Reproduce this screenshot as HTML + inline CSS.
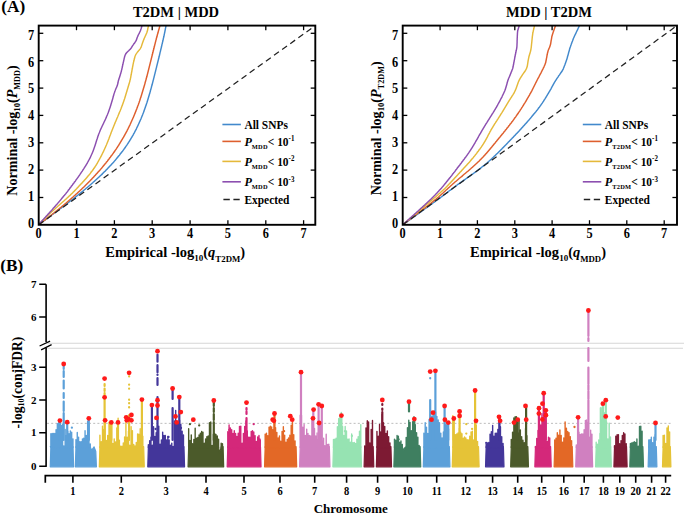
<!DOCTYPE html>
<html><head><meta charset="utf-8"><style>
html,body{margin:0;padding:0;background:#fff;width:685px;height:514px;overflow:hidden}
svg{display:block}
text{font-family:"Liberation Serif", serif;font-weight:bold;fill:#000}
.tk{font-size:14.5px}
.ttl{font-size:14.5px}
.ax{font-size:14.5px}
.ax2{font-size:14.3px}
.lg{font-size:12.3px}
.pl{font-size:17.3px}
.mt{font-size:11px}
.mx{font-size:12.3px}
.chr{font-size:13px}
</style></head><body>
<svg width="685" height="514" viewBox="0 0 685 514">
<rect width="685" height="514" fill="#fff"/>
<clipPath id="c38"><rect x="38.7" y="25.6" width="276.6" height="199.2"/></clipPath>
<g clip-path="url(#c38)" fill="none" stroke-width="1.45" stroke-linejoin="round">
<path d="M38.5,224.8 C38.9,224.5 40.3,223.5 41.2,222.8 C42.1,222.1 43,221.5 43.9,220.8 C44.8,220.1 45.7,219.5 46.6,218.8 C47.5,218.1 48.4,217.5 49.3,216.8 C50.2,216.1 51.1,215.5 52,214.8 C52.9,214.1 53.8,213.5 54.7,212.8 C55.6,212.1 56.5,211.5 57.4,210.8 C58.3,210.1 59.2,209.5 60.1,208.8 C61,208.1 61.9,207.5 62.8,206.8 C63.6,206.1 64.5,205.5 65.4,204.8 C66.3,204.1 67.2,203.5 68.1,202.8 C68.9,202.1 69.8,201.5 70.7,200.8 C71.5,200.1 72.4,199.5 73.3,198.8 C74.1,198.1 75,197.5 75.8,196.8 C76.7,196.1 77.5,195.5 78.3,194.8 C79.2,194.1 80,193.5 80.8,192.8 C81.7,192.1 82.5,191.5 83.3,190.8 C84.1,190.1 84.9,189.5 85.7,188.8 C86.5,188.1 87.3,187.5 88.1,186.8 C88.9,186.1 89.6,185.5 90.4,184.8 C91.2,184.1 91.9,183.5 92.7,182.8 C93.4,182.1 94.2,181.5 94.9,180.8 C95.7,180.1 96.4,179.5 97.1,178.8 C97.9,178.1 98.6,177.5 99.3,176.8 C100,176.1 100.7,175.5 101.4,174.8 C102.1,174.1 102.8,173.5 103.4,172.8 C104.1,172.1 104.8,171.5 105.5,170.8 C106.1,170.1 106.8,169.5 107.4,168.8 C108.1,168.1 108.7,167.5 109.3,166.8 C109.9,166.1 110.6,165.5 111.2,164.8 C111.8,164.1 112.4,163.5 113,162.8 C113.6,162.1 114.2,161.5 114.7,160.8 C115.3,160.1 115.9,159.5 116.4,158.8 C117,158.1 117.5,157.5 118.1,156.8 C118.6,156.1 119.2,155.5 119.7,154.8 C120.2,154.1 120.7,153.5 121.3,152.8 C121.8,152.1 122.3,151.5 122.8,150.8 C123.3,150.1 123.7,149.5 124.2,148.8 C124.7,148.1 125.2,147.5 125.6,146.8 C126.1,146.1 126.5,145.5 127,144.8 C127.4,144.1 127.9,143.5 128.3,142.8 C128.7,142.1 129.2,141.5 129.6,140.8 C130,140.1 130.4,139.5 130.8,138.8 C131.2,138.1 131.6,137.5 132,136.8 C132.4,136.1 132.8,135.5 133.2,134.8 C133.5,134.1 133.9,133.5 134.3,132.8 C134.6,132.1 135,131.5 135.3,130.8 C135.7,130.1 136,129.5 136.4,128.8 C136.7,128.1 137,127.5 137.3,126.8 C137.7,126.1 138,125.5 138.3,124.8 C138.6,124.1 138.9,123.5 139.2,122.8 C139.5,122.1 139.8,121.5 140.1,120.8 C140.4,120.1 140.7,119.5 141,118.8 C141.2,118.1 141.5,117.5 141.8,116.8 C142.1,116.1 142.3,115.5 142.6,114.8 C142.8,114.1 143.1,113.5 143.4,112.8 C143.6,112.1 143.9,111.5 144.1,110.8 C144.3,110.1 144.6,109.5 144.8,108.8 C145.1,108.1 145.3,107.5 145.5,106.8 C145.7,106.1 146,105.5 146.2,104.8 C146.4,104.1 146.6,103.5 146.9,102.8 C147.1,102.1 147.3,101.5 147.5,100.8 C147.7,100.1 147.9,99.5 148.1,98.8 C148.3,98.1 148.5,97.5 148.7,96.8 C148.9,96.1 149.1,95.5 149.3,94.8 C149.5,94.1 149.7,93.5 149.9,92.8 C150.1,92.1 150.3,91.5 150.4,90.8 C150.6,90.1 150.8,89.5 151,88.8 C151.2,88.1 151.4,87.5 151.5,86.8 C151.7,86.1 151.9,85.5 152.1,84.8 C152.2,84.1 152.4,83.5 152.6,82.8 C152.8,82.1 152.9,81.5 153.1,80.8 C153.3,80.1 153.5,79.5 153.6,78.8 C153.8,78.1 154,77.5 154.1,76.8 C154.3,76.1 154.5,75.5 154.6,74.8 C154.8,74.1 155,73.5 155.1,72.8 C155.3,72.1 155.5,71.5 155.6,70.8 C155.8,70.1 156,69.5 156.1,68.8 C156.3,68.1 156.5,67.5 156.6,66.8 C156.8,66.1 156.9,65.5 157.1,64.8 C157.3,64.1 157.4,63.5 157.6,62.8 C157.8,62.1 157.9,61.5 158.1,60.8 C158.3,60.1 158.4,59.5 158.6,58.8 C158.7,58.1 158.9,57.5 159.1,56.8 C159.2,56.1 159.4,55.5 159.6,54.8 C159.7,54.1 159.9,53.5 160,52.8 C160.2,52.1 160.4,51.5 160.5,50.8 C160.7,50.1 160.8,49.5 161,48.8 C161.2,48.1 161.3,47.5 161.5,46.8 C161.6,46.1 161.8,45.5 161.9,44.8 C162.1,44.1 162.3,43.5 162.4,42.8 C162.6,42.1 162.7,41.5 162.9,40.8 C163,40.1 163.2,39.5 163.3,38.8 C163.5,38.1 163.6,37.5 163.8,36.8 C163.9,36.1 164.1,35.5 164.2,34.8 C164.3,34.1 164.5,33.5 164.6,32.8 C164.8,32.1 164.9,31.5 165,30.8 C165.2,30.1 165.3,29.5 165.4,28.8 C165.5,28.1 165.7,27.5 165.8,26.8 C165.9,26.1 166,25.5 166.1,24.8 C166.2,24.1 166.4,23.5 166.5,22.8 C166.6,22.1 166.7,21.1 166.8,20.8" stroke="#4289cc"/>
<path d="M38.5,224.8 C38.9,224.5 40.3,223.5 41.2,222.8 C42.1,222.1 43,221.5 43.8,220.8 C44.7,220.1 45.6,219.5 46.5,218.8 C47.3,218.1 48.2,217.5 49.1,216.8 C49.9,216.1 50.8,215.5 51.6,214.8 C52.5,214.1 53.3,213.5 54.2,212.8 C55,212.1 55.8,211.5 56.7,210.8 C57.5,210.1 58.3,209.5 59.1,208.8 C60,208.1 60.8,207.5 61.6,206.8 C62.4,206.1 63.2,205.5 64,204.8 C64.8,204.1 65.6,203.5 66.4,202.8 C67.2,202.1 67.9,201.5 68.7,200.8 C69.5,200.1 70.2,199.5 71,198.8 C71.8,198.1 72.5,197.5 73.3,196.8 C74,196.1 74.8,195.5 75.5,194.8 C76.2,194.1 77,193.5 77.7,192.8 C78.4,192.1 79.1,191.5 79.9,190.8 C80.6,190.1 81.3,189.5 82,188.8 C82.7,188.1 83.4,187.5 84.1,186.8 C84.7,186.1 85.4,185.5 86.1,184.8 C86.8,184.1 87.4,183.5 88.1,182.8 C88.8,182.1 89.4,181.5 90.1,180.8 C90.7,180.1 91.4,179.5 92,178.8 C92.6,178.1 93.3,177.5 93.9,176.8 C94.5,176.1 95.1,175.5 95.7,174.8 C96.3,174.1 96.9,173.5 97.5,172.8 C98.1,172.1 98.7,171.5 99.3,170.8 C99.9,170.1 100.5,169.5 101,168.8 C101.6,168.1 102.2,167.5 102.7,166.8 C103.3,166.1 103.8,165.5 104.4,164.8 C104.9,164.1 105.5,163.5 106,162.8 C106.5,162.1 107.1,161.5 107.6,160.8 C108.1,160.1 108.6,159.5 109.1,158.8 C109.6,158.1 110.1,157.5 110.6,156.8 C111.1,156.1 111.6,155.5 112.1,154.8 C112.6,154.1 113,153.5 113.5,152.8 C114,152.1 114.5,151.5 114.9,150.8 C115.4,150.1 115.8,149.5 116.3,148.8 C116.7,148.1 117.2,147.5 117.6,146.8 C118,146.1 118.5,145.5 118.9,144.8 C119.3,144.1 119.7,143.5 120.1,142.8 C120.5,142.1 120.9,141.5 121.3,140.8 C121.7,140.1 122.1,139.5 122.5,138.8 C122.9,138.1 123.3,137.5 123.7,136.8 C124.1,136.1 124.4,135.5 124.8,134.8 C125.2,134.1 125.5,133.5 125.9,132.8 C126.3,132.1 126.6,131.5 127,130.8 C127.3,130.1 127.6,129.5 128,128.8 C128.3,128.1 128.7,127.5 129,126.8 C129.3,126.1 129.6,125.5 130,124.8 C130.3,124.1 130.6,123.5 130.9,122.8 C131.2,122.1 131.5,121.5 131.8,120.8 C132.1,120.1 132.4,119.5 132.7,118.8 C133,118.1 133.3,117.5 133.6,116.8 C133.9,116.1 134.1,115.5 134.4,114.8 C134.7,114.1 135,113.5 135.2,112.8 C135.5,112.1 135.8,111.5 136,110.8 C136.3,110.1 136.5,109.5 136.8,108.8 C137,108.1 137.3,107.5 137.5,106.8 C137.8,106.1 138,105.5 138.3,104.8 C138.5,104.1 138.7,103.5 139,102.8 C139.2,102.1 139.4,101.5 139.7,100.8 C139.9,100.1 140.1,99.5 140.3,98.8 C140.5,98.1 140.8,97.5 141,96.8 C141.2,96.1 141.4,95.5 141.6,94.8 C141.8,94.1 142,93.5 142.2,92.8 C142.4,92.1 142.6,91.5 142.8,90.8 C143,90.1 143.2,89.5 143.4,88.8 C143.6,88.1 143.8,87.5 144,86.8 C144.2,86.1 144.4,85.5 144.6,84.8 C144.8,84.1 145,83.5 145.1,82.8 C145.3,82.1 145.5,81.5 145.7,80.8 C145.9,80.1 146.1,79.5 146.2,78.8 C146.4,78.1 146.6,77.5 146.8,76.8 C146.9,76.1 147.1,75.5 147.3,74.8 C147.5,74.1 147.6,73.5 147.8,72.8 C148,72.1 148.1,71.5 148.3,70.8 C148.5,70.1 148.6,69.5 148.8,68.8 C149,68.1 149.1,67.5 149.3,66.8 C149.5,66.1 149.6,65.5 149.8,64.8 C150,64.1 150.1,63.5 150.3,62.8 C150.5,62.1 150.6,61.5 150.8,60.8 C151,60.1 151.1,59.5 151.3,58.8 C151.5,58.1 151.6,57.5 151.8,56.8 C152,56.1 152.1,55.5 152.3,54.8 C152.4,54.1 152.6,53.5 152.8,52.8 C152.9,52.1 153.1,51.5 153.3,50.8 C153.4,50.1 153.6,49.5 153.8,48.8 C153.9,48.1 154.1,47.5 154.3,46.8 C154.4,46.1 154.6,45.5 154.8,44.8 C155,44.1 155.1,43.5 155.3,42.8 C155.5,42.1 155.6,41.5 155.8,40.8 C156,40.1 156.2,39.5 156.3,38.8 C156.5,38.1 156.7,37.5 156.9,36.8 C157,36.1 157.2,35.5 157.4,34.8 C157.6,34.1 157.8,33.5 158,32.8 C158.1,32.1 158.3,31.5 158.5,30.8 C158.7,30.1 158.9,29.5 159.1,28.8 C159.3,28.1 159.4,27.5 159.6,26.8 C159.8,26.1 160,25.5 160.2,24.8 C160.4,24.1 160.6,23.5 160.8,22.8 C161,22.1 161.3,21.1 161.4,20.8" stroke="#de5f2e"/>
<path d="M38.5,224.8 C38.8,224.5 39.8,223.5 40.5,222.8 C41.2,222.1 41.8,221.5 42.5,220.8 C43.2,220.1 43.8,219.5 44.5,218.8 C45.2,218.1 45.8,217.5 46.5,216.8 C47.2,216.1 47.8,215.5 48.5,214.8 C49.2,214.1 49.9,213.5 50.6,212.8 C51.4,212.1 52.1,211.5 52.9,210.8 C53.6,210.1 54.3,209.5 55.1,208.8 C55.8,208.1 56.5,207.5 57.3,206.8 C58,206.1 58.8,205.5 59.5,204.8 C60.3,204.1 61,203.5 61.8,202.8 C62.6,202.1 63.3,201.5 64.1,200.8 C64.8,200.1 65.6,199.5 66.3,198.8 C67.1,198.1 67.8,197.5 68.5,196.8 C69.2,196.1 69.9,195.5 70.6,194.8 C71.3,194.1 72,193.5 72.7,192.8 C73.3,192.1 74,191.5 74.6,190.8 C75.3,190.1 75.9,189.5 76.6,188.8 C77.2,188.1 77.8,187.5 78.4,186.8 C79.1,186.1 79.7,185.5 80.3,184.8 C80.9,184.1 81.6,183.5 82.2,182.8 C82.8,182.1 83.4,181.5 84,180.8 C84.6,180.1 85.2,179.5 85.8,178.8 C86.3,178.1 86.9,177.5 87.5,176.8 C88,176.1 88.6,175.5 89.1,174.8 C89.7,174.1 90.2,173.5 90.7,172.8 C91.2,172.1 91.7,171.5 92.2,170.8 C92.7,170.1 93.2,169.5 93.6,168.8 C94.1,168.1 94.6,167.5 95,166.8 C95.4,166.1 95.9,165.5 96.3,164.8 C96.7,164.1 97.1,163.5 97.5,162.8 C97.9,162.1 98.3,161.5 98.6,160.8 C99,160.1 99.4,159.5 99.7,158.8 C100.1,158.1 100.5,157.5 100.8,156.8 C101.1,156.1 101.5,155.5 101.8,154.8 C102.2,154.1 102.5,153.5 102.8,152.8 C103.1,152.1 103.5,151.5 103.8,150.8 C104.1,150.1 104.4,149.5 104.7,148.8 C105,148.1 105.3,147.5 105.6,146.8 C105.9,146.1 106.2,145.5 106.5,144.8 C106.7,144.1 107,143.5 107.3,142.8 C107.6,142.1 107.8,141.5 108.1,140.8 C108.4,140.1 108.6,139.5 108.9,138.8 C109.1,138.1 109.4,137.5 109.6,136.8 C109.9,136.1 110.1,135.5 110.4,134.8 C110.6,134.1 110.9,133.5 111.1,132.8 C111.4,132.1 111.6,131.5 111.9,130.8 C112.2,130.1 112.4,129.5 112.7,128.8 C113,128.1 113.2,127.5 113.5,126.8 C113.8,126.1 114,125.5 114.3,124.8 C114.6,124.1 114.9,123.5 115.1,122.8 C115.4,122.1 115.7,121.5 116,120.8 C116.3,120.1 116.5,119.5 116.8,118.8 C117.1,118.1 117.4,117.5 117.7,116.8 C117.9,116.1 118.2,115.5 118.5,114.8 C118.8,114.1 119.1,113.5 119.3,112.8 C119.6,112.1 119.9,111.5 120.2,110.8 C120.4,110.1 120.7,109.5 121,108.8 C121.2,108.1 121.5,107.5 121.7,106.8 C122,106.1 122.3,105.5 122.5,104.8 C122.8,104.1 123,103.5 123.2,102.8 C123.5,102.1 123.7,101.5 123.9,100.8 C124.1,100.1 124.3,99.5 124.6,98.8 C124.8,98.1 125,97.5 125.2,96.8 C125.4,96.1 125.6,95.5 125.8,94.8 C126,94.1 126.2,93.5 126.4,92.8 C126.6,92.1 126.8,91.5 127,90.8 C127.2,90.1 127.4,89.5 127.6,88.8 C127.8,88.1 128,87.5 128.2,86.8 C128.4,86.1 128.6,85.5 128.8,84.8 C129,84.1 129.2,83.5 129.4,82.8 C129.6,82.1 129.8,81.5 129.9,80.8 C130.1,80.1 130.3,79.5 130.4,78.8 C130.5,78.1 130.7,77.5 130.8,76.8 C130.9,76.1 131,75.5 131.2,74.8 C131.3,74.1 131.4,73.5 131.5,72.8 C131.7,72.1 131.8,71.5 131.9,70.8 C132,70.1 132.1,69.5 132.3,68.8 C132.4,68.1 132.5,67.5 132.6,66.8 C132.8,66.1 132.9,65.5 133,64.8 C133.1,64.1 133.3,63.5 133.4,62.8 C133.6,62.1 133.7,61.5 133.9,60.8 C134,60.1 134.2,59.5 134.4,58.8 C134.5,58.1 134.7,57.5 134.9,56.8 C135.1,56.1 135.4,55.5 135.7,54.8 C136,54.1 136.4,53.5 136.9,52.8 C137.3,52.1 138,51.5 138.5,50.8 C139.1,50.1 139.7,49.5 140.2,48.8 C140.6,48.1 141,47.5 141.3,46.8 C141.6,46.1 141.7,45.5 141.9,44.8 C142.2,44.1 142.4,43.5 142.6,42.8 C142.8,42.1 143.1,41.5 143.3,40.8 C143.6,40.1 143.9,39.5 144.1,38.8 C144.4,38.1 144.7,37.5 145,36.8 C145.3,36.1 145.6,35.5 145.9,34.8 C146.2,34.1 146.5,33.5 146.8,32.8 C147,32.1 147.2,31.5 147.4,30.8 C147.6,30.1 147.7,29.5 147.8,28.8 C148,28.1 148.1,27.5 148.2,26.8 C148.3,26.1 148.5,25.5 148.6,24.8 C148.7,24.1 148.8,23.5 148.9,22.8 C149,22.1 149.1,21.1 149.2,20.8 C149.2,20.5 149.2,20.8 149.2,20.8" stroke="#e5b93a"/>
<path d="M38.5,224.8 C38.8,224.5 39.7,223.5 40.3,222.8 C40.9,222.1 41.5,221.5 42.1,220.8 C42.7,220.1 43.4,219.5 44,218.8 C44.6,218.1 45.2,217.5 45.8,216.8 C46.4,216.1 47,215.5 47.6,214.8 C48.2,214.1 48.8,213.5 49.4,212.8 C50,212.1 50.6,211.5 51.2,210.8 C51.8,210.1 52.4,209.5 52.9,208.8 C53.5,208.1 54.1,207.5 54.7,206.8 C55.2,206.1 55.8,205.5 56.4,204.8 C57,204.1 57.6,203.5 58.1,202.8 C58.7,202.1 59.3,201.5 59.8,200.8 C60.4,200.1 61,199.5 61.5,198.8 C62.1,198.1 62.6,197.5 63.2,196.8 C63.7,196.1 64.3,195.5 64.8,194.8 C65.4,194.1 65.9,193.5 66.4,192.8 C67,192.1 67.5,191.5 68,190.8 C68.5,190.1 69,189.5 69.5,188.8 C70,188.1 70.5,187.5 71,186.8 C71.5,186.1 72,185.5 72.5,184.8 C73,184.1 73.5,183.5 74,182.8 C74.5,182.1 75,181.5 75.5,180.8 C75.9,180.1 76.4,179.5 76.9,178.8 C77.4,178.1 77.8,177.5 78.3,176.8 C78.8,176.1 79.2,175.5 79.7,174.8 C80.1,174.1 80.6,173.5 81,172.8 C81.5,172.1 81.9,171.5 82.4,170.8 C82.8,170.1 83.2,169.5 83.7,168.8 C84.1,168.1 84.5,167.5 84.9,166.8 C85.4,166.1 85.8,165.5 86.2,164.8 C86.6,164.1 87,163.5 87.4,162.8 C87.8,162.1 88.2,161.5 88.5,160.8 C88.9,160.1 89.3,159.5 89.6,158.8 C89.9,158.1 90.3,157.5 90.6,156.8 C90.9,156.1 91.2,155.5 91.5,154.8 C91.8,154.1 92.1,153.5 92.4,152.8 C92.7,152.1 92.9,151.5 93.2,150.8 C93.5,150.1 93.7,149.5 93.9,148.8 C94.2,148.1 94.4,147.5 94.6,146.8 C94.9,146.1 95.1,145.5 95.3,144.8 C95.5,144.1 95.7,143.5 95.9,142.8 C96.1,142.1 96.3,141.5 96.5,140.8 C96.7,140.1 96.9,139.5 97.2,138.8 C97.4,138.1 97.6,137.5 97.8,136.8 C98,136.1 98.3,135.5 98.5,134.8 C98.7,134.1 99,133.5 99.3,132.8 C99.5,132.1 99.8,131.5 100.1,130.8 C100.4,130.1 100.6,129.5 100.9,128.8 C101.3,128.1 101.6,127.5 101.9,126.8 C102.2,126.1 102.5,125.5 102.8,124.8 C103.2,124.1 103.5,123.5 103.8,122.8 C104.1,122.1 104.4,121.5 104.7,120.8 C105.1,120.1 105.4,119.5 105.7,118.8 C106,118.1 106.3,117.5 106.5,116.8 C106.8,116.1 107.1,115.5 107.4,114.8 C107.6,114.1 107.9,113.5 108.2,112.8 C108.4,112.1 108.7,111.5 108.9,110.8 C109.2,110.1 109.4,109.5 109.6,108.8 C109.9,108.1 110.1,107.5 110.3,106.8 C110.5,106.1 110.7,105.5 110.9,104.8 C111.1,104.1 111.3,103.5 111.5,102.8 C111.7,102.1 111.9,101.5 112.1,100.8 C112.3,100.1 112.5,99.5 112.7,98.8 C112.9,98.1 113,97.5 113.2,96.8 C113.4,96.1 113.6,95.5 113.8,94.8 C114,94.1 114.1,93.5 114.4,92.8 C114.6,92.1 114.8,91.5 115.1,90.8 C115.3,90.1 115.6,89.5 115.9,88.8 C116.2,88.1 116.5,87.5 116.8,86.8 C117.1,86.1 117.3,85.5 117.5,84.8 C117.7,84.1 117.8,83.5 118,82.8 C118.1,82.1 118.2,81.5 118.4,80.8 C118.6,80.1 118.8,79.5 119,78.8 C119.2,78.1 119.5,77.5 119.7,76.8 C119.9,76.1 120.1,75.5 120.3,74.8 C120.5,74.1 120.7,73.5 120.9,72.8 C121.1,72.1 121.3,71.5 121.4,70.8 C121.6,70.1 121.8,69.5 121.9,68.8 C122.1,68.1 122.2,67.5 122.4,66.8 C122.5,66.1 122.6,65.5 122.8,64.8 C122.9,64.1 123.1,63.5 123.2,62.8 C123.4,62.1 123.5,61.5 123.7,60.8 C123.8,60.1 124,59.5 124.1,58.8 C124.3,58.1 124.4,57.5 124.6,56.8 C124.8,56.1 125,55.5 125.3,54.8 C125.6,54.1 126,53.5 126.6,52.8 C127.1,52.1 128,51.5 128.7,50.8 C129.3,50.1 130,49.5 130.6,48.8 C131.1,48.1 131.5,47.5 131.9,46.8 C132.3,46.1 132.7,45.5 133.2,44.8 C133.6,44.1 134.3,43.5 134.7,42.8 C135.2,42.1 135.7,41.5 136,40.8 C136.4,40.1 136.6,39.5 136.8,38.8 C137,38.1 137.2,37.5 137.5,36.8 C137.7,36.1 138.1,35.5 138.4,34.8 C138.8,34.1 139.2,33.5 139.5,32.8 C139.8,32.1 140.1,31.5 140.4,30.8 C140.6,30.1 140.8,29.5 141.1,28.8 C141.3,28.1 141.5,27.5 141.7,26.8 C141.8,26.1 142,25.5 142.1,24.8 C142.3,24.1 142.4,23.5 142.5,22.8 C142.6,22.1 142.7,21.1 142.7,20.8 C142.7,20.5 142.7,20.8 142.7,20.8" stroke="#8c4fb0"/>
<line x1="38.7" y1="224.8" x2="315.3" y2="25.6" stroke="#222" stroke-width="1.25" stroke-dasharray="6,4"/>
</g>
<rect x="38.7" y="25.6" width="276.6" height="199.2" fill="none" stroke="#000" stroke-width="1.9"/>
<text transform="translate(38.7,237.8) scale(0.85,1)" text-anchor="middle" class="tk">0</text>
<text transform="translate(34.2,228.1) scale(0.85,1)" text-anchor="end" class="tk">0</text>
<line x1="76.5" y1="224.8" x2="76.5" y2="220.2" stroke="#000" stroke-width="1.3"/>
<line x1="76.5" y1="25.6" x2="76.5" y2="30.2" stroke="#000" stroke-width="1.3"/>
<line x1="38.7" y1="197.5" x2="43.3" y2="197.5" stroke="#000" stroke-width="1.3"/>
<line x1="315.3" y1="197.5" x2="310.7" y2="197.5" stroke="#000" stroke-width="1.3"/>
<text transform="translate(76.5,237.8) scale(0.85,1)" text-anchor="middle" class="tk">1</text>
<text transform="translate(34.2,201.2) scale(0.85,1)" text-anchor="end" class="tk">1</text>
<line x1="114.4" y1="224.8" x2="114.4" y2="220.2" stroke="#000" stroke-width="1.3"/>
<line x1="114.4" y1="25.6" x2="114.4" y2="30.2" stroke="#000" stroke-width="1.3"/>
<line x1="38.7" y1="170.1" x2="43.3" y2="170.1" stroke="#000" stroke-width="1.3"/>
<line x1="315.3" y1="170.1" x2="310.7" y2="170.1" stroke="#000" stroke-width="1.3"/>
<text transform="translate(114.4,237.8) scale(0.85,1)" text-anchor="middle" class="tk">2</text>
<text transform="translate(34.2,174.2) scale(0.85,1)" text-anchor="end" class="tk">2</text>
<line x1="152.2" y1="224.8" x2="152.2" y2="220.2" stroke="#000" stroke-width="1.3"/>
<line x1="152.2" y1="25.6" x2="152.2" y2="30.2" stroke="#000" stroke-width="1.3"/>
<line x1="38.7" y1="142.8" x2="43.3" y2="142.8" stroke="#000" stroke-width="1.3"/>
<line x1="315.3" y1="142.8" x2="310.7" y2="142.8" stroke="#000" stroke-width="1.3"/>
<text transform="translate(152.2,237.8) scale(0.85,1)" text-anchor="middle" class="tk">3</text>
<text transform="translate(34.2,147.3) scale(0.85,1)" text-anchor="end" class="tk">3</text>
<line x1="190.1" y1="224.8" x2="190.1" y2="220.2" stroke="#000" stroke-width="1.3"/>
<line x1="190.1" y1="25.6" x2="190.1" y2="30.2" stroke="#000" stroke-width="1.3"/>
<line x1="38.7" y1="115.4" x2="43.3" y2="115.4" stroke="#000" stroke-width="1.3"/>
<line x1="315.3" y1="115.4" x2="310.7" y2="115.4" stroke="#000" stroke-width="1.3"/>
<text transform="translate(190.1,237.8) scale(0.85,1)" text-anchor="middle" class="tk">4</text>
<text transform="translate(34.2,120.3) scale(0.85,1)" text-anchor="end" class="tk">4</text>
<line x1="227.9" y1="224.8" x2="227.9" y2="220.2" stroke="#000" stroke-width="1.3"/>
<line x1="227.9" y1="25.6" x2="227.9" y2="30.2" stroke="#000" stroke-width="1.3"/>
<line x1="38.7" y1="88.1" x2="43.3" y2="88.1" stroke="#000" stroke-width="1.3"/>
<line x1="315.3" y1="88.1" x2="310.7" y2="88.1" stroke="#000" stroke-width="1.3"/>
<text transform="translate(227.9,237.8) scale(0.85,1)" text-anchor="middle" class="tk">5</text>
<text transform="translate(34.2,93.4) scale(0.85,1)" text-anchor="end" class="tk">5</text>
<line x1="265.8" y1="224.8" x2="265.8" y2="220.2" stroke="#000" stroke-width="1.3"/>
<line x1="265.8" y1="25.6" x2="265.8" y2="30.2" stroke="#000" stroke-width="1.3"/>
<line x1="38.7" y1="60.7" x2="43.3" y2="60.7" stroke="#000" stroke-width="1.3"/>
<line x1="315.3" y1="60.7" x2="310.7" y2="60.7" stroke="#000" stroke-width="1.3"/>
<text transform="translate(265.8,237.8) scale(0.85,1)" text-anchor="middle" class="tk">6</text>
<text transform="translate(34.2,66.5) scale(0.85,1)" text-anchor="end" class="tk">6</text>
<line x1="303.6" y1="224.8" x2="303.6" y2="220.2" stroke="#000" stroke-width="1.3"/>
<line x1="303.6" y1="25.6" x2="303.6" y2="30.2" stroke="#000" stroke-width="1.3"/>
<line x1="38.7" y1="33.3" x2="43.3" y2="33.3" stroke="#000" stroke-width="1.3"/>
<line x1="315.3" y1="33.3" x2="310.7" y2="33.3" stroke="#000" stroke-width="1.3"/>
<text transform="translate(303.6,237.8) scale(0.85,1)" text-anchor="middle" class="tk">7</text>
<text transform="translate(34.2,39.5) scale(0.85,1)" text-anchor="end" class="tk">7</text>
<text x="176" y="16.6" text-anchor="middle" class="ttl">T2DM | MDD</text>
<text x="175.2" y="257" text-anchor="middle" class="ax">Empirical -log<tspan font-size="9" dy="4">10</tspan><tspan dy="-4">(</tspan><tspan font-style="italic">q</tspan><tspan font-size="8.8" dy="4.5">T2DM</tspan><tspan dy="-4.5">)</tspan></text>
<text transform="translate(17.2,130.5) rotate(-90) scale(0.97,1)" text-anchor="middle" class="ax">Norminal -log<tspan font-size="9" dy="3">10</tspan><tspan dy="-3">(</tspan><tspan font-style="italic">P</tspan><tspan font-size="8.5" dy="3">MDD</tspan><tspan dy="-3">)</tspan></text>
<line x1="222.4" y1="124.5" x2="240.9" y2="124.5" stroke="#4289cc" stroke-width="1.6"/>
<line x1="222.4" y1="141.4" x2="240.9" y2="141.4" stroke="#de5f2e" stroke-width="1.6"/>
<line x1="222.4" y1="161.4" x2="240.9" y2="161.4" stroke="#e5b93a" stroke-width="1.6"/>
<line x1="222.4" y1="181.8" x2="240.9" y2="181.8" stroke="#8c4fb0" stroke-width="1.6"/>
<line x1="223.4" y1="199.5" x2="239.7" y2="199.5" stroke="#222" stroke-width="1.5" stroke-dasharray="6.4,3.6,6.4"/>
<text transform="translate(244.4,129.3) scale(0.93,1)" class="lg">All SNPs</text>
<text transform="translate(244.4,145.7) scale(0.93,1)" class="lg"><tspan font-style="italic" font-size="13">P</tspan><tspan font-size="6.9" letter-spacing="0.25" dy="3">MDD</tspan><tspan dy="-3">&lt; 10</tspan><tspan font-size="7.5" dy="-4.5">-1</tspan></text>
<text transform="translate(244.4,165.7) scale(0.93,1)" class="lg"><tspan font-style="italic" font-size="13">P</tspan><tspan font-size="6.9" letter-spacing="0.25" dy="3">MDD</tspan><tspan dy="-3">&lt; 10</tspan><tspan font-size="7.5" dy="-4.5">-2</tspan></text>
<text transform="translate(244.4,186.1) scale(0.93,1)" class="lg"><tspan font-style="italic" font-size="13">P</tspan><tspan font-size="6.9" letter-spacing="0.25" dy="3">MDD</tspan><tspan dy="-3">&lt; 10</tspan><tspan font-size="7.5" dy="-4.5">-3</tspan></text>
<text transform="translate(244.4,204.4) scale(0.93,1)" class="lg">Expected</text>
<clipPath id="c402"><rect x="402.7" y="25.6" width="274.3" height="199.2"/></clipPath>
<g clip-path="url(#c402)" fill="none" stroke-width="1.45" stroke-linejoin="round">
<path d="M402.7,224.8 C403.2,224.5 404.6,223.5 405.5,222.8 C406.4,222.1 407.3,221.5 408.3,220.8 C409.2,220.1 410.1,219.5 411.1,218.8 C412,218.1 412.9,217.5 413.9,216.8 C414.8,216.1 415.7,215.5 416.7,214.8 C417.6,214.1 418.5,213.5 419.5,212.8 C420.4,212.1 421.4,211.5 422.3,210.8 C423.2,210.1 424.1,209.5 425,208.8 C425.9,208.1 426.8,207.5 427.8,206.8 C428.7,206.1 429.6,205.5 430.5,204.8 C431.4,204.1 432.4,203.5 433.3,202.8 C434.2,202.1 435.1,201.5 436,200.8 C436.9,200.1 437.8,199.5 438.8,198.8 C439.7,198.1 440.6,197.5 441.5,196.8 C442.4,196.1 443.3,195.5 444.1,194.8 C445,194.1 445.9,193.5 446.8,192.8 C447.7,192.1 448.6,191.5 449.4,190.8 C450.3,190.1 451.2,189.5 452.1,188.8 C452.9,188.1 453.8,187.5 454.7,186.8 C455.6,186.1 456.5,185.5 457.4,184.8 C458.3,184.1 459.2,183.5 460.1,182.8 C461.1,182.1 462,181.5 462.9,180.8 C463.9,180.1 464.8,179.5 465.8,178.8 C466.7,178.1 467.7,177.5 468.7,176.8 C469.6,176.1 470.6,175.5 471.5,174.8 C472.5,174.1 473.4,173.5 474.3,172.8 C475.3,172.1 476.2,171.5 477.1,170.8 C478,170.1 478.9,169.5 479.7,168.8 C480.6,168.1 481.5,167.5 482.3,166.8 C483.1,166.1 484,165.5 484.8,164.8 C485.6,164.1 486.4,163.5 487.2,162.8 C487.9,162.1 488.7,161.5 489.5,160.8 C490.2,160.1 490.9,159.5 491.7,158.8 C492.4,158.1 493.1,157.5 493.8,156.8 C494.5,156.1 495.2,155.5 495.9,154.8 C496.6,154.1 497.3,153.5 498,152.8 C498.7,152.1 499.3,151.5 500,150.8 C500.7,150.1 501.3,149.5 502,148.8 C502.6,148.1 503.3,147.5 503.9,146.8 C504.6,146.1 505.2,145.5 505.9,144.8 C506.5,144.1 507.1,143.5 507.8,142.8 C508.4,142.1 509.1,141.5 509.7,140.8 C510.4,140.1 511,139.5 511.7,138.8 C512.3,138.1 513,137.5 513.6,136.8 C514.2,136.1 514.9,135.5 515.5,134.8 C516.1,134.1 516.8,133.5 517.4,132.8 C518,132.1 518.6,131.5 519.3,130.8 C519.9,130.1 520.5,129.5 521.1,128.8 C521.7,128.1 522.3,127.5 522.9,126.8 C523.5,126.1 524.1,125.5 524.7,124.8 C525.3,124.1 525.9,123.5 526.5,122.8 C527,122.1 527.6,121.5 528.2,120.8 C528.8,120.1 529.4,119.5 529.9,118.8 C530.5,118.1 531.1,117.5 531.6,116.8 C532.2,116.1 532.7,115.5 533.3,114.8 C533.8,114.1 534.4,113.5 534.9,112.8 C535.5,112.1 536,111.5 536.5,110.8 C537.1,110.1 537.6,109.5 538.1,108.8 C538.6,108.1 539.1,107.5 539.6,106.8 C540.1,106.1 540.5,105.5 541,104.8 C541.5,104.1 541.9,103.5 542.4,102.8 C542.8,102.1 543.3,101.5 543.7,100.8 C544.1,100.1 544.5,99.5 545,98.8 C545.4,98.1 545.8,97.5 546.2,96.8 C546.6,96.1 547,95.5 547.4,94.8 C547.8,94.1 548.2,93.5 548.6,92.8 C549,92.1 549.4,91.5 549.8,90.8 C550.2,90.1 550.6,89.5 551,88.8 C551.3,88.1 551.7,87.5 552,86.8 C552.4,86.1 552.7,85.5 553.1,84.8 C553.5,84.1 553.8,83.5 554.2,82.8 C554.6,82.1 555,81.5 555.4,80.8 C555.9,80.1 556.3,79.5 556.7,78.8 C557.2,78.1 557.6,77.5 558.1,76.8 C558.5,76.1 559,75.5 559.5,74.8 C559.9,74.1 560.4,73.5 560.8,72.8 C561.3,72.1 561.8,71.5 562.2,70.8 C562.6,70.1 562.9,69.5 563.3,68.8 C563.6,68.1 563.8,67.5 564.1,66.8 C564.4,66.1 564.6,65.5 564.9,64.8 C565.1,64.1 565.4,63.5 565.6,62.8 C565.9,62.1 566.1,61.5 566.3,60.8 C566.6,60.1 566.8,59.5 567,58.8 C567.2,58.1 567.3,57.5 567.5,56.8 C567.7,56.1 567.9,55.5 568.1,54.8 C568.3,54.1 568.4,53.5 568.6,52.8 C568.8,52.1 569,51.5 569.2,50.8 C569.4,50.1 569.5,49.5 569.7,48.8 C569.9,48.1 570.1,47.5 570.4,46.8 C570.6,46.1 570.8,45.5 571.1,44.8 C571.3,44.1 571.6,43.5 571.8,42.8 C572.1,42.1 572.3,41.5 572.6,40.8 C572.8,40.1 573.1,39.5 573.3,38.8 C573.6,38.1 573.9,37.5 574.2,36.8 C574.5,36.1 574.8,35.5 575.1,34.8 C575.4,34.1 575.8,33.5 576.1,32.8 C576.4,32.1 576.7,31.5 577,30.8 C577.3,30.1 577.7,29.5 578,28.8 C578.3,28.1 578.6,27.5 578.9,26.8 C579.2,26.1 579.5,25.5 579.7,24.8 C580,24.1 580.2,23.5 580.4,22.8 C580.6,22.1 580.8,21.1 580.9,20.8 C581,20.5 580.9,20.8 580.9,20.8" stroke="#4289cc"/>
<path d="M402.7,224.8 C403.1,224.5 404.4,223.5 405.3,222.8 C406.2,222.1 407.1,221.5 408,220.8 C408.8,220.1 409.7,219.5 410.6,218.8 C411.5,218.1 412.4,217.5 413.2,216.8 C414.1,216.1 415,215.5 415.9,214.8 C416.8,214.1 417.6,213.5 418.5,212.8 C419.4,212.1 420.3,211.5 421.2,210.8 C422,210.1 422.9,209.5 423.7,208.8 C424.6,208.1 425.5,207.5 426.3,206.8 C427.2,206.1 428,205.5 428.9,204.8 C429.7,204.1 430.6,203.5 431.4,202.8 C432.3,202.1 433.1,201.5 433.9,200.8 C434.8,200.1 435.6,199.5 436.4,198.8 C437.2,198.1 438,197.5 438.8,196.8 C439.5,196.1 440.3,195.5 441,194.8 C441.8,194.1 442.5,193.5 443.3,192.8 C444,192.1 444.7,191.5 445.4,190.8 C446.1,190.1 446.9,189.5 447.6,188.8 C448.3,188.1 449,187.5 449.8,186.8 C450.5,186.1 451.2,185.5 452,184.8 C452.7,184.1 453.5,183.5 454.2,182.8 C455,182.1 455.8,181.5 456.6,180.8 C457.3,180.1 458.1,179.5 458.9,178.8 C459.7,178.1 460.5,177.5 461.3,176.8 C462.1,176.1 462.9,175.5 463.6,174.8 C464.4,174.1 465.2,173.5 466,172.8 C466.8,172.1 467.6,171.5 468.4,170.8 C469.1,170.1 469.9,169.5 470.7,168.8 C471.4,168.1 472.2,167.5 472.9,166.8 C473.7,166.1 474.4,165.5 475.1,164.8 C475.9,164.1 476.6,163.5 477.3,162.8 C478,162.1 478.7,161.5 479.4,160.8 C480,160.1 480.7,159.5 481.3,158.8 C482,158.1 482.6,157.5 483.3,156.8 C483.9,156.1 484.5,155.5 485.1,154.8 C485.7,154.1 486.3,153.5 486.9,152.8 C487.5,152.1 488,151.5 488.6,150.8 C489.2,150.1 489.7,149.5 490.3,148.8 C490.8,148.1 491.4,147.5 491.9,146.8 C492.5,146.1 493,145.5 493.6,144.8 C494.1,144.1 494.7,143.5 495.2,142.8 C495.7,142.1 496.3,141.5 496.8,140.8 C497.4,140.1 497.9,139.5 498.5,138.8 C499,138.1 499.6,137.5 500.1,136.8 C500.7,136.1 501.2,135.5 501.8,134.8 C502.3,134.1 502.9,133.5 503.4,132.8 C503.9,132.1 504.5,131.5 505,130.8 C505.5,130.1 506.1,129.5 506.6,128.8 C507.1,128.1 507.7,127.5 508.2,126.8 C508.7,126.1 509.2,125.5 509.7,124.8 C510.2,124.1 510.8,123.5 511.3,122.8 C511.8,122.1 512.3,121.5 512.8,120.8 C513.3,120.1 513.7,119.5 514.2,118.8 C514.7,118.1 515.2,117.5 515.7,116.8 C516.1,116.1 516.6,115.5 517,114.8 C517.5,114.1 518,113.5 518.4,112.8 C518.9,112.1 519.3,111.5 519.8,110.8 C520.2,110.1 520.6,109.5 521.1,108.8 C521.5,108.1 521.9,107.5 522.4,106.8 C522.8,106.1 523.2,105.5 523.6,104.8 C524,104.1 524.4,103.5 524.9,102.8 C525.3,102.1 525.7,101.5 526.1,100.8 C526.5,100.1 526.8,99.5 527.2,98.8 C527.6,98.1 528,97.5 528.4,96.8 C528.8,96.1 529.2,95.5 529.6,94.8 C529.9,94.1 530.3,93.5 530.7,92.8 C531.1,92.1 531.4,91.5 531.8,90.8 C532.1,90.1 532.5,89.5 532.8,88.8 C533.2,88.1 533.5,87.5 533.8,86.8 C534.2,86.1 534.5,85.5 534.8,84.8 C535.2,84.1 535.5,83.5 535.8,82.8 C536.1,82.1 536.5,81.5 536.8,80.8 C537.2,80.1 537.5,79.5 537.8,78.8 C538.2,78.1 538.5,77.5 538.9,76.8 C539.2,76.1 539.6,75.5 539.9,74.8 C540.3,74.1 540.6,73.5 541,72.8 C541.3,72.1 541.7,71.5 542,70.8 C542.3,70.1 542.6,69.5 543,68.8 C543.3,68.1 543.6,67.5 544,66.8 C544.3,66.1 544.6,65.5 544.9,64.8 C545.2,64.1 545.4,63.5 545.6,62.8 C545.8,62.1 545.9,61.5 546,60.8 C546.2,60.1 546.3,59.5 546.4,58.8 C546.5,58.1 546.7,57.5 546.8,56.8 C546.9,56.1 547,55.5 547.2,54.8 C547.3,54.1 547.4,53.5 547.6,52.8 C547.7,52.1 547.9,51.5 548.1,50.8 C548.3,50.1 548.7,49.5 548.9,48.8 C549.2,48.1 549.6,47.5 549.8,46.8 C550,46.1 550.2,45.5 550.4,44.8 C550.6,44.1 550.7,43.5 550.8,42.8 C550.9,42.1 551,41.5 551.1,40.8 C551.2,40.1 551.4,39.5 551.5,38.8 C551.6,38.1 551.7,37.5 551.8,36.8 C552,36.1 552.2,35.5 552.4,34.8 C552.6,34.1 552.8,33.5 553,32.8 C553.3,32.1 553.5,31.5 553.7,30.8 C554,30.1 554.2,29.5 554.4,28.8 C554.7,28.1 554.9,27.5 555.1,26.8 C555.3,26.1 555.6,25.5 555.7,24.8 C555.9,24.1 556.1,23.5 556.2,22.8 C556.4,22.1 556.5,21.1 556.6,20.8 C556.6,20.5 556.6,20.8 556.6,20.8" stroke="#de5f2e"/>
<path d="M402.7,224.8 C403.1,224.5 404.3,223.5 405.1,222.8 C405.8,222.1 406.6,221.5 407.4,220.8 C408.2,220.1 409,219.5 409.8,218.8 C410.6,218.1 411.4,217.5 412.2,216.8 C413,216.1 413.8,215.5 414.6,214.8 C415.3,214.1 416.1,213.5 416.9,212.8 C417.7,212.1 418.5,211.5 419.3,210.8 C420.1,210.1 420.9,209.5 421.6,208.8 C422.4,208.1 423.2,207.5 424,206.8 C424.7,206.1 425.5,205.5 426.3,204.8 C427.1,204.1 427.9,203.5 428.7,202.8 C429.4,202.1 430.2,201.5 431,200.8 C431.8,200.1 432.6,199.5 433.3,198.8 C434.1,198.1 434.9,197.5 435.7,196.8 C436.4,196.1 437.2,195.5 438,194.8 C438.7,194.1 439.5,193.5 440.2,192.8 C441,192.1 441.7,191.5 442.4,190.8 C443.2,190.1 443.9,189.5 444.6,188.8 C445.2,188.1 445.9,187.5 446.6,186.8 C447.3,186.1 447.9,185.5 448.5,184.8 C449.2,184.1 449.8,183.5 450.4,182.8 C451.1,182.1 451.7,181.5 452.3,180.8 C452.9,180.1 453.5,179.5 454.1,178.8 C454.7,178.1 455.3,177.5 455.9,176.8 C456.5,176.1 457.1,175.5 457.8,174.8 C458.4,174.1 459,173.5 459.6,172.8 C460.2,172.1 460.9,171.5 461.5,170.8 C462.1,170.1 462.7,169.5 463.3,168.8 C464,168.1 464.6,167.5 465.2,166.8 C465.8,166.1 466.4,165.5 467,164.8 C467.6,164.1 468.2,163.5 468.8,162.8 C469.4,162.1 470,161.5 470.5,160.8 C471.1,160.1 471.6,159.5 472.2,158.8 C472.8,158.1 473.3,157.5 473.8,156.8 C474.4,156.1 474.9,155.5 475.4,154.8 C476,154.1 476.5,153.5 477,152.8 C477.5,152.1 478,151.5 478.5,150.8 C479,150.1 479.5,149.5 480,148.8 C480.5,148.1 480.9,147.5 481.4,146.8 C481.8,146.1 482.3,145.5 482.7,144.8 C483.2,144.1 483.6,143.5 484,142.8 C484.4,142.1 484.8,141.5 485.2,140.8 C485.6,140.1 485.9,139.5 486.3,138.8 C486.7,138.1 487,137.5 487.4,136.8 C487.7,136.1 488.1,135.5 488.4,134.8 C488.8,134.1 489.1,133.5 489.5,132.8 C489.8,132.1 490.2,131.5 490.6,130.8 C490.9,130.1 491.3,129.5 491.7,128.8 C492.1,128.1 492.5,127.5 492.9,126.8 C493.3,126.1 493.7,125.5 494.1,124.8 C494.5,124.1 494.9,123.5 495.4,122.8 C495.8,122.1 496.2,121.5 496.7,120.8 C497.1,120.1 497.5,119.5 498,118.8 C498.4,118.1 498.8,117.5 499.2,116.8 C499.7,116.1 500.1,115.5 500.5,114.8 C500.9,114.1 501.3,113.5 501.8,112.8 C502.2,112.1 502.6,111.5 503,110.8 C503.4,110.1 503.8,109.5 504.2,108.8 C504.6,108.1 505,107.5 505.4,106.8 C505.8,106.1 506.2,105.5 506.6,104.8 C507,104.1 507.4,103.5 507.8,102.8 C508.2,102.1 508.6,101.5 509,100.8 C509.4,100.1 509.9,99.5 510.3,98.8 C510.7,98.1 511.2,97.5 511.6,96.8 C512,96.1 512.4,95.5 512.9,94.8 C513.3,94.1 513.7,93.5 514.1,92.8 C514.5,92.1 514.8,91.5 515.1,90.8 C515.5,90.1 515.7,89.5 516,88.8 C516.3,88.1 516.5,87.5 516.7,86.8 C517,86.1 517.2,85.5 517.4,84.8 C517.7,84.1 517.9,83.5 518.1,82.8 C518.4,82.1 518.6,81.5 518.9,80.8 C519.2,80.1 519.5,79.5 519.9,78.8 C520.3,78.1 520.7,77.5 521.1,76.8 C521.6,76.1 522,75.5 522.4,74.8 C522.9,74.1 523.3,73.5 523.8,72.8 C524.3,72.1 524.8,71.5 525.2,70.8 C525.6,70.1 526.1,69.5 526.4,68.8 C526.7,68.1 526.9,67.5 527.1,66.8 C527.3,66.1 527.4,65.5 527.5,64.8 C527.6,64.1 527.7,63.5 527.8,62.8 C527.9,62.1 528,61.5 528.1,60.8 C528.2,60.1 528.4,59.5 528.5,58.8 C528.6,58.1 528.8,57.5 528.9,56.8 C529.1,56.1 529.3,55.5 529.5,54.8 C529.7,54.1 529.9,53.5 530.1,52.8 C530.3,52.1 530.5,51.5 530.6,50.8 C530.8,50.1 530.9,49.5 531,48.8 C531.2,48.1 531.2,47.5 531.3,46.8 C531.4,46.1 531.4,45.5 531.5,44.8 C531.6,44.1 531.6,43.5 531.7,42.8 C531.8,42.1 531.9,41.5 531.9,40.8 C532,40.1 532.1,39.5 532.1,38.8 C532.2,38.1 532.3,37.5 532.3,36.8 C532.4,36.1 532.5,35.5 532.6,34.8 C532.7,34.1 532.7,33.5 532.9,32.8 C533,32.1 533.2,31.5 533.3,30.8 C533.5,30.1 533.6,29.5 533.8,28.8 C533.9,28.1 534.1,27.5 534.2,26.8 C534.4,26.1 534.5,25.5 534.7,24.8 C534.8,24.1 534.9,23.5 535,22.8 C535.1,22.1 535.2,21.1 535.2,20.8 C535.2,20.5 535.2,20.8 535.2,20.8" stroke="#e5b93a"/>
<path d="M402.7,224.8 C403.1,224.5 404.2,223.5 404.9,222.8 C405.7,222.1 406.4,221.5 407.2,220.8 C407.9,220.1 408.6,219.5 409.4,218.8 C410.1,218.1 410.9,217.5 411.6,216.8 C412.4,216.1 413.1,215.5 413.9,214.8 C414.6,214.1 415.3,213.5 416.1,212.8 C416.8,212.1 417.6,211.5 418.3,210.8 C419.1,210.1 419.8,209.5 420.5,208.8 C421.2,208.1 422,207.5 422.7,206.8 C423.4,206.1 424.1,205.5 424.9,204.8 C425.6,204.1 426.3,203.5 427,202.8 C427.8,202.1 428.5,201.5 429.2,200.8 C429.9,200.1 430.6,199.5 431.3,198.8 C432,198.1 432.6,197.5 433.3,196.8 C434,196.1 434.6,195.5 435.3,194.8 C435.9,194.1 436.6,193.5 437.2,192.8 C437.8,192.1 438.4,191.5 439,190.8 C439.6,190.1 440.2,189.5 440.8,188.8 C441.4,188.1 442,187.5 442.5,186.8 C443.1,186.1 443.7,185.5 444.2,184.8 C444.8,184.1 445.3,183.5 445.9,182.8 C446.4,182.1 446.9,181.5 447.5,180.8 C448,180.1 448.5,179.5 449.1,178.8 C449.6,178.1 450.1,177.5 450.6,176.8 C451.2,176.1 451.7,175.5 452.2,174.8 C452.7,174.1 453.2,173.5 453.7,172.8 C454.3,172.1 454.8,171.5 455.3,170.8 C455.8,170.1 456.3,169.5 456.8,168.8 C457.3,168.1 457.8,167.5 458.4,166.8 C458.9,166.1 459.4,165.5 459.9,164.8 C460.4,164.1 460.9,163.5 461.4,162.8 C461.9,162.1 462.4,161.5 462.9,160.8 C463.4,160.1 463.9,159.5 464.4,158.8 C464.9,158.1 465.4,157.5 465.9,156.8 C466.4,156.1 466.8,155.5 467.3,154.8 C467.8,154.1 468.2,153.5 468.7,152.8 C469.1,152.1 469.6,151.5 470,150.8 C470.5,150.1 470.9,149.5 471.3,148.8 C471.8,148.1 472.2,147.5 472.6,146.8 C473,146.1 473.4,145.5 473.8,144.8 C474.2,144.1 474.6,143.5 475,142.8 C475.4,142.1 475.8,141.5 476.1,140.8 C476.5,140.1 476.9,139.5 477.3,138.8 C477.7,138.1 478,137.5 478.4,136.8 C478.8,136.1 479.2,135.5 479.5,134.8 C479.9,134.1 480.3,133.5 480.7,132.8 C481.1,132.1 481.4,131.5 481.8,130.8 C482.2,130.1 482.6,129.5 483,128.8 C483.4,128.1 483.8,127.5 484.2,126.8 C484.6,126.1 485,125.5 485.4,124.8 C485.8,124.1 486.2,123.5 486.7,122.8 C487.1,122.1 487.5,121.5 487.9,120.8 C488.3,120.1 488.8,119.5 489.2,118.8 C489.6,118.1 490,117.5 490.4,116.8 C490.9,116.1 491.3,115.5 491.7,114.8 C492.1,114.1 492.5,113.5 493,112.8 C493.4,112.1 493.8,111.5 494.2,110.8 C494.6,110.1 495,109.5 495.4,108.8 C495.8,108.1 496.2,107.5 496.6,106.8 C497,106.1 497.3,105.5 497.7,104.8 C498.1,104.1 498.5,103.5 498.8,102.8 C499.2,102.1 499.5,101.5 499.9,100.8 C500.3,100.1 500.6,99.5 500.9,98.8 C501.3,98.1 501.6,97.5 502,96.8 C502.3,96.1 502.6,95.5 502.9,94.8 C503.3,94.1 503.6,93.5 503.9,92.8 C504.2,92.1 504.5,91.5 504.8,90.8 C505,90.1 505.3,89.5 505.5,88.8 C505.7,88.1 505.9,87.5 506.1,86.8 C506.3,86.1 506.5,85.5 506.7,84.8 C506.9,84.1 507,83.5 507.2,82.8 C507.4,82.1 507.6,81.5 507.8,80.8 C508,80.1 508.3,79.5 508.5,78.8 C508.8,78.1 509.1,77.5 509.4,76.8 C509.7,76.1 510,75.5 510.2,74.8 C510.5,74.1 510.8,73.5 511,72.8 C511.3,72.1 511.6,71.5 511.8,70.8 C512.1,70.1 512.3,69.5 512.6,68.8 C512.8,68.1 512.9,67.5 513.1,66.8 C513.2,66.1 513.3,65.5 513.5,64.8 C513.6,64.1 513.7,63.5 513.8,62.8 C514,62.1 514.1,61.5 514.2,60.8 C514.3,60.1 514.5,59.5 514.6,58.8 C514.7,58.1 514.8,57.5 515,56.8 C515.1,56.1 515.2,55.5 515.4,54.8 C515.5,54.1 515.6,53.5 515.8,52.8 C515.9,52.1 516,51.5 516.2,50.8 C516.3,50.1 516.5,49.5 516.6,48.8 C516.7,48.1 516.8,47.5 516.9,46.8 C516.9,46.1 517,45.5 517,44.8 C517,44.1 517,43.5 517.1,42.8 C517.1,42.1 517.1,41.5 517.1,40.8 C517.2,40.1 517.2,39.5 517.2,38.8 C517.2,38.1 517.3,37.5 517.3,36.8 C517.3,36.1 517.3,35.5 517.4,34.8 C517.4,34.1 517.4,33.5 517.5,32.8 C517.5,32.1 517.6,31.5 517.7,30.8 C517.9,30.1 518.1,29.5 518.3,28.8 C518.5,28.1 518.7,27.5 518.9,26.8 C519.1,26.1 519.3,25.5 519.5,24.8 C519.6,24.1 519.8,23.5 519.9,22.8 C520,22.1 520.1,21.1 520.1,20.8 C520.2,20.5 520.1,20.8 520.1,20.8" stroke="#8c4fb0"/>
<line x1="402.7" y1="224.8" x2="677" y2="25.6" stroke="#222" stroke-width="1.25" stroke-dasharray="6,4"/>
</g>
<rect x="402.7" y="25.6" width="274.3" height="199.2" fill="none" stroke="#000" stroke-width="1.9"/>
<text transform="translate(402.7,237.8) scale(0.85,1)" text-anchor="middle" class="tk">0</text>
<text transform="translate(398.2,228.1) scale(0.85,1)" text-anchor="end" class="tk">0</text>
<line x1="440.1" y1="224.8" x2="440.1" y2="220.2" stroke="#000" stroke-width="1.3"/>
<line x1="440.1" y1="25.6" x2="440.1" y2="30.2" stroke="#000" stroke-width="1.3"/>
<line x1="402.7" y1="197.5" x2="407.3" y2="197.5" stroke="#000" stroke-width="1.3"/>
<line x1="677" y1="197.5" x2="672.4" y2="197.5" stroke="#000" stroke-width="1.3"/>
<text transform="translate(440.1,237.8) scale(0.85,1)" text-anchor="middle" class="tk">1</text>
<text transform="translate(398.2,201.2) scale(0.85,1)" text-anchor="end" class="tk">1</text>
<line x1="477.4" y1="224.8" x2="477.4" y2="220.2" stroke="#000" stroke-width="1.3"/>
<line x1="477.4" y1="25.6" x2="477.4" y2="30.2" stroke="#000" stroke-width="1.3"/>
<line x1="402.7" y1="170.1" x2="407.3" y2="170.1" stroke="#000" stroke-width="1.3"/>
<line x1="677" y1="170.1" x2="672.4" y2="170.1" stroke="#000" stroke-width="1.3"/>
<text transform="translate(477.4,237.8) scale(0.85,1)" text-anchor="middle" class="tk">2</text>
<text transform="translate(398.2,174.2) scale(0.85,1)" text-anchor="end" class="tk">2</text>
<line x1="514.8" y1="224.8" x2="514.8" y2="220.2" stroke="#000" stroke-width="1.3"/>
<line x1="514.8" y1="25.6" x2="514.8" y2="30.2" stroke="#000" stroke-width="1.3"/>
<line x1="402.7" y1="142.8" x2="407.3" y2="142.8" stroke="#000" stroke-width="1.3"/>
<line x1="677" y1="142.8" x2="672.4" y2="142.8" stroke="#000" stroke-width="1.3"/>
<text transform="translate(514.8,237.8) scale(0.85,1)" text-anchor="middle" class="tk">3</text>
<text transform="translate(398.2,147.3) scale(0.85,1)" text-anchor="end" class="tk">3</text>
<line x1="552.1" y1="224.8" x2="552.1" y2="220.2" stroke="#000" stroke-width="1.3"/>
<line x1="552.1" y1="25.6" x2="552.1" y2="30.2" stroke="#000" stroke-width="1.3"/>
<line x1="402.7" y1="115.4" x2="407.3" y2="115.4" stroke="#000" stroke-width="1.3"/>
<line x1="677" y1="115.4" x2="672.4" y2="115.4" stroke="#000" stroke-width="1.3"/>
<text transform="translate(552.1,237.8) scale(0.85,1)" text-anchor="middle" class="tk">4</text>
<text transform="translate(398.2,120.3) scale(0.85,1)" text-anchor="end" class="tk">4</text>
<line x1="589.5" y1="224.8" x2="589.5" y2="220.2" stroke="#000" stroke-width="1.3"/>
<line x1="589.5" y1="25.6" x2="589.5" y2="30.2" stroke="#000" stroke-width="1.3"/>
<line x1="402.7" y1="88.1" x2="407.3" y2="88.1" stroke="#000" stroke-width="1.3"/>
<line x1="677" y1="88.1" x2="672.4" y2="88.1" stroke="#000" stroke-width="1.3"/>
<text transform="translate(589.5,237.8) scale(0.85,1)" text-anchor="middle" class="tk">5</text>
<text transform="translate(398.2,93.4) scale(0.85,1)" text-anchor="end" class="tk">5</text>
<line x1="626.8" y1="224.8" x2="626.8" y2="220.2" stroke="#000" stroke-width="1.3"/>
<line x1="626.8" y1="25.6" x2="626.8" y2="30.2" stroke="#000" stroke-width="1.3"/>
<line x1="402.7" y1="60.7" x2="407.3" y2="60.7" stroke="#000" stroke-width="1.3"/>
<line x1="677" y1="60.7" x2="672.4" y2="60.7" stroke="#000" stroke-width="1.3"/>
<text transform="translate(626.8,237.8) scale(0.85,1)" text-anchor="middle" class="tk">6</text>
<text transform="translate(398.2,66.5) scale(0.85,1)" text-anchor="end" class="tk">6</text>
<line x1="664.2" y1="224.8" x2="664.2" y2="220.2" stroke="#000" stroke-width="1.3"/>
<line x1="664.2" y1="25.6" x2="664.2" y2="30.2" stroke="#000" stroke-width="1.3"/>
<line x1="402.7" y1="33.3" x2="407.3" y2="33.3" stroke="#000" stroke-width="1.3"/>
<line x1="677" y1="33.3" x2="672.4" y2="33.3" stroke="#000" stroke-width="1.3"/>
<text transform="translate(664.2,237.8) scale(0.85,1)" text-anchor="middle" class="tk">7</text>
<text transform="translate(398.2,39.5) scale(0.85,1)" text-anchor="end" class="tk">7</text>
<text x="549" y="16.6" text-anchor="middle" class="ttl">MDD | T2DM</text>
<text x="538.1" y="257" text-anchor="middle" class="ax">Empirical -log<tspan font-size="9" dy="4">10</tspan><tspan dy="-4">(</tspan><tspan font-style="italic">q</tspan><tspan font-size="8.8" dy="4.5">MDD</tspan><tspan dy="-4.5">)</tspan></text>
<text transform="translate(381.2,128.3) rotate(-90) scale(0.97,1)" text-anchor="middle" class="ax">Norminal -log<tspan font-size="9" dy="3">10</tspan><tspan dy="-3">(</tspan><tspan font-style="italic">P</tspan><tspan font-size="8.5" dy="3">T2DM</tspan><tspan dy="-3">)</tspan></text>
<line x1="582.8" y1="124.5" x2="601.3" y2="124.5" stroke="#4289cc" stroke-width="1.6"/>
<line x1="582.8" y1="141.4" x2="601.3" y2="141.4" stroke="#de5f2e" stroke-width="1.6"/>
<line x1="582.8" y1="161.4" x2="601.3" y2="161.4" stroke="#e5b93a" stroke-width="1.6"/>
<line x1="582.8" y1="181.8" x2="601.3" y2="181.8" stroke="#8c4fb0" stroke-width="1.6"/>
<line x1="583.8" y1="199.5" x2="600.1" y2="199.5" stroke="#222" stroke-width="1.5" stroke-dasharray="6.4,3.6,6.4"/>
<text transform="translate(604.8,129.3) scale(0.93,1)" class="lg">All SNPs</text>
<text transform="translate(604.8,145.7) scale(0.93,1)" class="lg"><tspan font-style="italic" font-size="13">P</tspan><tspan font-size="6.9" letter-spacing="0.25" dy="3">T2DM</tspan><tspan dy="-3">&lt; 10</tspan><tspan font-size="7.5" dy="-4.5">-1</tspan></text>
<text transform="translate(604.8,165.7) scale(0.93,1)" class="lg"><tspan font-style="italic" font-size="13">P</tspan><tspan font-size="6.9" letter-spacing="0.25" dy="3">T2DM</tspan><tspan dy="-3">&lt; 10</tspan><tspan font-size="7.5" dy="-4.5">-2</tspan></text>
<text transform="translate(604.8,186.1) scale(0.93,1)" class="lg"><tspan font-style="italic" font-size="13">P</tspan><tspan font-size="6.9" letter-spacing="0.25" dy="3">T2DM</tspan><tspan dy="-3">&lt; 10</tspan><tspan font-size="7.5" dy="-4.5">-3</tspan></text>
<text transform="translate(604.8,204.4) scale(0.93,1)" class="lg">Expected</text>
<text x="1.2" y="11.9" class="pl">(A)</text>
<text x="0.3" y="270.7" class="pl">(B)</text>
<line x1="47.5" y1="343.3" x2="684" y2="343.3" stroke="#d6d6d6" stroke-width="1.1"/>
<line x1="47.5" y1="348.3" x2="683" y2="348.3" stroke="#d6d6d6" stroke-width="1.1"/>
<line x1="47" y1="423.35" x2="671" y2="423.35" stroke="#b4b4b4" stroke-width="0.9" stroke-dasharray="2,2.2"/>
<path d="M50.26,466.8 L50.86,446.5 L50.26,446.5 L52.01,446.5 L53.76,446.5 L55.51,446.5 L56.68,446.5 L58.43,446.5 L59.6,446.5 L60.77,446.5 L61.93,446.5 L63.69,446.5 L65.44,446.5 L66.61,446.5 L67.77,446.5 L69.53,446.5 L70.69,446.5 L73.03,446.5 L73.01,446.5 L73.61,466.8Z" fill="#5ca0d9" stroke="#5ca0d9" stroke-width="1.2" stroke-linejoin="round"/>
<path d="M50.86,447.5V433.65M52.16,447.5V433.47M53.46,447.5V433.4M54.76,447.5V433.42M56.06,447.5V429.75M57.36,447.5V423.77M58.66,447.5V422.58M59.96,447.5V431.73M61.26,447.5V425.5M62.56,447.5V424.24M63.86,447.5V446.01M65.16,447.5V429.39M66.46,447.5V435.42M67.76,447.5V431.08M69.06,447.5V433.74M70.36,447.5V430.85M71.66,447.5V432.26M72.96,447.5V438.83" stroke="#5ca0d9" stroke-width="1.4" stroke-linecap="round" fill="none"/>
<path d="M75.36,466.8 L75.96,446.5 L75.95,446.5 L77.7,446.5 L78.87,446.5 L80.04,446.5 L82.37,446.5 L83.54,446.5 L85.88,446.5 L87.04,446.5 L88.8,446.5 L89.96,446.5 L91.72,450.22 L94.05,446.86 L95.8,451.56 L95.79,451.56 L96.39,466.8Z" fill="#5ca0d9" stroke="#5ca0d9" stroke-width="1.2" stroke-linejoin="round"/>
<path d="M75.96,447.5V439.62M77.26,447.5V432.43M78.56,447.5V437.11M79.86,447.5V441.76M81.16,447.5V441.79M82.46,447.5V438.83M83.76,447.5V438.2M85.06,447.5V430.7M86.36,447.5V435.4M87.66,447.5V421.11M88.96,447.5V424.12M90.26,447.5V444.04" stroke="#5ca0d9" stroke-width="1.4" stroke-linecap="round" fill="none"/>
<path d="M99.31,466.8 L99.91,446.5 L101.06,446.5 L103.39,446.5 L104.56,446.5 L105.73,446.5 L108.65,446.5 L110.4,446.5 L112.74,446.5 L115.07,446.5 L117.99,446.5 L119.74,446.5 L122.08,446.5 L123.48,446.5 L125,446.5 L127.34,446.5 L129.67,446.5 L132.01,446.5 L133.18,446.5 L134.34,446.5 L136.68,446.5 L139.01,446.5 L141.35,446.5 L142.52,446.5 L143.67,446.5 L144.27,466.8Z" fill="#e5c337" stroke="#e5c337" stroke-width="1.2" stroke-linejoin="round"/>
<path d="M99.91,447.5V435.31M101.21,447.5V441.64M102.51,447.5V426.29M103.81,447.5V429.45M105.11,447.5V422.87M106.41,447.5V440.44M107.71,447.5V435.47M109.01,447.5V422.29M110.31,447.5V423.28M111.61,447.5V424.75M112.91,447.5V443.44M114.21,447.5V438.84M115.51,447.5V442.07M116.81,447.5V427.89M118.11,447.5V418.29M119.41,447.5V440.28M120.71,447.5V446.19M122.01,447.5V446.21M123.31,447.5V442.92M124.61,447.5V436.91M125.91,447.5V420.34M127.21,447.5V437.27M128.51,447.5V431.12M129.81,447.5V445.31M131.11,447.5V426.59M132.41,447.5V430.63M133.71,447.5V444.4M135.01,447.5V445.88M136.31,447.5V442.37M137.61,447.5V433.84M138.91,447.5V434.31M140.21,447.5V428.68M141.51,447.5V434.94M142.81,447.5V436.13" stroke="#e5c337" stroke-width="1.4" stroke-linecap="round" fill="none"/>
<path d="M147.77,466.8 L148.37,446.5 L148.36,446.5 L150.11,446.5 L151.28,446.5 L152.45,446.5 L154.2,446.5 L155.95,446.5 L157.12,446.5 L158.87,446.5 L160.04,446.5 L161.79,446.5 L163.54,446.5 L165.29,446.5 L167.04,446.5 L168.8,446.5 L170.55,446.5 L171.72,446.5 L172.3,446.5 L174.05,446.5 L175.22,446.5 L176.97,446.5 L178.14,446.5 L179.31,446.5 L181.06,446.5 L182.81,446.5 L183.98,446.5 L183.96,446.5 L184.56,466.8Z" fill="#43369a" stroke="#43369a" stroke-width="1.2" stroke-linejoin="round"/>
<path d="M148.37,447.5V444.8M149.67,447.5V440.81M150.97,447.5V437.24M152.27,447.5V445.25M153.57,447.5V426.73M154.87,447.5V436.52M156.17,447.5V432.71M157.47,447.5V426.04M158.77,447.5V426.09M160.07,447.5V444.1M161.37,447.5V439.96M162.67,447.5V432.11M163.97,447.5V435.49M165.27,447.5V435.43M166.57,447.5V439.94M167.87,447.5V436.33M169.17,447.5V439.91M170.47,447.5V445.1M171.77,447.5V443.08M173.07,447.5V446.35M174.37,447.5V420.92M175.67,447.5V410.38M176.97,447.5V421.44M178.27,447.5V422.89M179.57,447.5V420.15M180.87,447.5V424.38M182.17,447.5V431.24M183.47,447.5V435.05" stroke="#43369a" stroke-width="1.4" stroke-linecap="round" fill="none"/>
<path d="M188.07,466.8 L188.67,446.5 L188.65,446.5 L190.4,446.5 L192.74,446.5 L195.07,446.5 L196.82,446.5 L198.58,446.5 L202.08,446.5 L203.83,446.5 L205,446.5 L206.75,446.5 L208.5,446.5 L209.67,446.5 L210.84,446.5 L212.01,446.5 L213.76,446.5 L214.93,446.5 L216.68,446.5 L218.43,446.5 L219.6,452.9 L221.35,446.5 L222.52,446.5 L223.09,446.5 L223.69,466.8Z" fill="#4b5a2a" stroke="#4b5a2a" stroke-width="1.2" stroke-linejoin="round"/>
<path d="M188.67,447.5V428.8M189.97,447.5V440.55M191.27,447.5V434.83M192.57,447.5V443.7M193.87,447.5V439.34M195.17,447.5V428.24M196.47,447.5V438.24M197.77,447.5V437.56M199.07,447.5V434.97M200.37,447.5V433.13M201.67,447.5V431.42M202.97,447.5V432.19M204.27,447.5V443.31M205.57,447.5V438.87M206.87,447.5V436.67M208.17,447.5V436.05M209.47,447.5V422.82M210.77,447.5V421.99M212.07,447.5V445.45M213.37,447.5V434.15M214.67,447.5V433.44M215.97,447.5V434.35M217.27,447.5V436.02M218.57,447.5V439.16M221.17,447.5V443.29M222.47,447.5V443.71" stroke="#4b5a2a" stroke-width="1.4" stroke-linecap="round" fill="none"/>
<path d="M227.19,466.8 L227.79,446.5 L227.77,446.5 L229.53,446.5 L231.28,446.5 L233.03,446.5 L235.36,446.5 L237.12,446.5 L238.87,446.5 L240.04,446.5 L241.79,446.5 L243.54,446.5 L245.88,446.5 L247.63,446.5 L249.38,446.5 L251.13,446.5 L252.88,446.5 L254.05,446.5 L256.39,446.5 L259.31,446.5 L260.47,446.5 L260.46,446.5 L261.06,466.8Z" fill="#d4287a" stroke="#d4287a" stroke-width="1.2" stroke-linejoin="round"/>
<path d="M227.79,447.5V431.67M229.09,447.5V425.03M230.39,447.5V428M231.69,447.5V429.74M232.99,447.5V433.54M234.29,447.5V430.77M235.59,447.5V433.4M236.89,447.5V436.41M238.19,447.5V433.28M239.49,447.5V426.33M240.79,447.5V426.3M242.09,447.5V443.25M243.39,447.5V433.42M244.69,447.5V426.57M245.99,447.5V421.04M247.29,447.5V431.04M248.59,447.5V437.11M249.89,447.5V437.15M251.19,447.5V431.43M252.49,447.5V430.62M253.79,447.5V431.89M255.09,447.5V435.82M256.39,447.5V441.4M257.69,447.5V437.07M258.99,447.5V435.39M260.29,447.5V440.31" stroke="#d4287a" stroke-width="1.4" stroke-linecap="round" fill="none"/>
<path d="M264.56,466.8 L265.16,446.5 L265.15,446.5 L266.9,446.5 L268.65,446.5 L270.4,446.5 L272.74,446.5 L274.49,446.5 L276.24,446.5 L277.99,446.5 L279.16,446.5 L280.91,446.5 L283.25,446.5 L285,446.5 L287.34,446.5 L289.67,446.5 L291.42,446.5 L293.18,446.5 L294.34,446.5 L296.09,446.5 L296.08,446.5 L296.68,466.8Z" fill="#e36826" stroke="#e36826" stroke-width="1.2" stroke-linejoin="round"/>
<path d="M265.16,447.5V434.12M266.46,447.5V433.1M267.76,447.5V435.61M269.06,447.5V427.08M270.36,447.5V426.08M271.66,447.5V427.07M272.96,447.5V429.69M274.26,447.5V420.37M275.56,447.5V427.62M276.86,447.5V432.34M278.16,447.5V437.83M279.46,447.5V435.85M280.76,447.5V441.18M282.06,447.5V431.5M283.36,447.5V426.74M284.66,447.5V435.13M285.96,447.5V442.2M287.26,447.5V439.48M288.56,447.5V438.07M289.86,447.5V435.18M291.16,447.5V425.14M292.46,447.5V422.02M293.76,447.5V434.82M295.06,447.5V440.99" stroke="#e36826" stroke-width="1.4" stroke-linecap="round" fill="none"/>
<path d="M299.6,466.8 L300.2,446.5 L300.18,446.5 L301.93,446.5 L303.69,446.5 L305.44,446.5 L307.19,446.5 L308.36,446.5 L310.11,446.5 L312.45,446.5 L313.61,446.5 L315.36,446.5 L317.12,446.5 L318.87,446.5 L320.62,446.5 L322.37,446.5 L324.71,446.5 L326.46,446.5 L328.21,446.5 L329.36,446.5 L329.96,466.8Z" fill="#d080c0" stroke="#d080c0" stroke-width="1.2" stroke-linejoin="round"/>
<path d="M300.2,447.5V415.3M301.5,447.5V415.35M302.8,447.5V427.3M304.1,447.5V424.54M305.4,447.5V435.51M306.7,447.5V429.19M308,447.5V433.38M309.3,447.5V435.47M310.6,447.5V435.85M311.9,447.5V419.02M313.2,447.5V417.56M314.5,447.5V428.38M315.8,447.5V435.93M317.1,447.5V432.96M318.4,447.5V439.51M319.7,447.5V424.63M321,447.5V425.46M322.3,447.5V440.67M323.6,447.5V438.23M324.9,447.5V445.71M326.2,447.5V434.29M327.5,447.5V444.42M328.8,447.5V444.29" stroke="#d080c0" stroke-width="1.4" stroke-linecap="round" fill="none"/>
<path d="M332.88,466.8 L333.48,446.5 L334.05,446.5 L336.39,446.5 L338.14,446.5 L339.89,446.5 L341.64,446.5 L343.39,446.5 L345.15,446.5 L346.9,446.5 L349.23,446.5 L351.57,446.5 L353.32,446.5 L355.66,446.5 L357.99,446.5 L359.74,446.5 L360.9,446.5 L361.5,466.8Z" fill="#96e3b2" stroke="#96e3b2" stroke-width="1.2" stroke-linejoin="round"/>
<path d="M333.48,447.5V439.48M334.78,447.5V439.15M336.08,447.5V438.22M337.38,447.5V426.69M338.68,447.5V418.66M339.98,447.5V416.42M341.28,447.5V412.53M342.58,447.5V426.43M343.88,447.5V435.35M345.18,447.5V426.4M346.48,447.5V430.88M347.78,447.5V439.21M349.08,447.5V439.04M350.38,447.5V442.13M351.68,447.5V434.06M352.98,447.5V442.63M354.28,447.5V442.55M355.58,447.5V443.56M356.88,447.5V439.26M358.18,447.5V436.67M359.48,447.5V431.25M360.78,447.5V424.7" stroke="#96e3b2" stroke-width="1.4" stroke-linecap="round" fill="none"/>
<path d="M364.09,466.8 L364.69,446.5 L364.67,446.5 L365.84,446.5 L367.01,446.5 L368.76,446.5 L370.51,446.5 L371.68,446.5 L372.85,446.5 L373.18,446.5 L373.78,466.8Z" fill="#7d1a33" stroke="#7d1a33" stroke-width="1.2" stroke-linejoin="round"/>
<path d="M364.69,447.5V445.91M365.99,447.5V427.92M367.29,447.5V420.82M368.59,447.5V422.05M369.89,447.5V442.93M371.19,447.5V429.41M372.49,447.5V420.38" stroke="#7d1a33" stroke-width="1.4" stroke-linecap="round" fill="none"/>
<path d="M376.35,466.8 L376.95,446.5 L376.93,446.5 L379.27,446.5 L381.02,446.5 L382.19,446.5 L383.94,446.5 L385.69,446.5 L387.45,446.5 L389.2,446.5 L390.95,446.5 L390.93,446.5 L391.53,466.8Z" fill="#7d1a33" stroke="#7d1a33" stroke-width="1.2" stroke-linejoin="round"/>
<path d="M376.95,447.5V431.37M378.25,447.5V436.2M379.55,447.5V424.35M380.85,447.5V431.85M382.15,447.5V414.53M383.45,447.5V422.66M384.75,447.5V426.34M386.05,447.5V433.5M387.35,447.5V431.05M388.65,447.5V436.74M389.95,447.5V442.87" stroke="#7d1a33" stroke-width="1.4" stroke-linecap="round" fill="none"/>
<path d="M393.87,466.8 L394.47,446.5 L394.45,446.5 L396.2,446.5 L397.96,446.5 L400.29,446.5 L402.04,446.5 L403.8,450.22 L404.96,447.53 L406.72,446.5 L408.47,446.5 L410.22,446.5 L411.97,446.5 L413.72,446.5 L415.47,446.5 L417.23,446.5 L418.98,446.5 L420.13,446.5 L420.73,466.8Z" fill="#3f7f60" stroke="#3f7f60" stroke-width="1.2" stroke-linejoin="round"/>
<path d="M394.47,447.5V439.21M395.77,447.5V440.26M397.07,447.5V435.46M398.37,447.5V436.17M399.67,447.5V442.08M400.97,447.5V441.03M402.27,447.5V444.37M406.17,447.5V437.38M407.47,447.5V427.78M408.77,447.5V420.15M410.07,447.5V422.37M411.37,447.5V430.82M412.67,447.5V421.76M413.97,447.5V416.81M415.27,447.5V424.78M416.57,447.5V432.75M417.87,447.5V437.28M419.17,447.5V445.49" stroke="#3f7f60" stroke-width="1.4" stroke-linecap="round" fill="none"/>
<path d="M423.3,466.8 L423.9,446.5 L424,446.5 L425.99,446.5 L427.74,446.5 L429.49,446.5 L431.24,446.5 L432.99,446.5 L434.74,446.5 L435.91,446.5 L437.66,446.5 L440,446.5 L441.75,446.5 L443.5,446.5 L444.67,446.5 L446.42,446.5 L448.18,446.5 L449.34,446.5 L449.33,446.5 L449.93,466.8Z" fill="#5ca0d9" stroke="#5ca0d9" stroke-width="1.2" stroke-linejoin="round"/>
<path d="M423.9,447.5V433.16M425.2,447.5V422.82M426.5,447.5V427.15M427.8,447.5V433.47M429.1,447.5V419.56M430.4,447.5V414.08M431.7,447.5V416.45M433,447.5V414.96M434.3,447.5V410.83M435.6,447.5V411.9M436.9,447.5V416.51M438.2,447.5V419.94M439.5,447.5V422.76M440.8,447.5V433.09M442.1,447.5V437.94M443.4,447.5V431.89M444.7,447.5V419.44M446,447.5V424.58M447.3,447.5V424.61M448.6,447.5V429.03" stroke="#5ca0d9" stroke-width="1.4" stroke-linecap="round" fill="none"/>
<path d="M452.26,466.8 L452.86,446.5 L452.85,446.5 L454.6,446.5 L456.35,446.5 L458.1,446.5 L459.85,446.5 L461.61,446.5 L463.36,446.5 L465.11,446.5 L466.86,446.5 L469.2,446.5 L471.53,446.5 L473.87,446.5 L475.62,446.5 L477.37,446.5 L478.52,446.5 L479.12,466.8Z" fill="#e5c337" stroke="#e5c337" stroke-width="1.2" stroke-linejoin="round"/>
<path d="M452.86,447.5V415.7M454.16,447.5V434.38M455.46,447.5V434.65M456.76,447.5V433.97M458.06,447.5V432.89M459.36,447.5V428.48M460.66,447.5V432.12M461.96,447.5V433.75M463.26,447.5V438.17M464.56,447.5V436.99M465.86,447.5V437.95M467.16,447.5V439.62M468.46,447.5V439.84M469.76,447.5V436.18M471.06,447.5V431.9M472.36,447.5V431.24M473.66,447.5V439.88M474.96,447.5V440.31M476.26,447.5V424.9M477.56,447.5V441.34" stroke="#e5c337" stroke-width="1.4" stroke-linecap="round" fill="none"/>
<path d="M485.55,466.8 L486.15,446.5 L486.13,446.5 L489.05,446.5 L491.39,446.5 L493.14,446.5 L494.89,446.5 L496.64,446.5 L498.39,446.5 L499.56,446.5 L500.73,446.5 L503.07,446.5 L503.4,446.5 L504,466.8Z" fill="#43369a" stroke="#43369a" stroke-width="1.2" stroke-linejoin="round"/>
<path d="M486.15,447.5V444.42M487.45,447.5V442.9M488.75,447.5V442.39M490.05,447.5V434.14M491.35,447.5V431.79M492.65,447.5V425.46M493.95,447.5V436.32M495.25,447.5V433.19M496.55,447.5V433.16M497.85,447.5V429.53M499.15,447.5V420.14M500.45,447.5V426.82M501.75,447.5V436.66M503.05,447.5V443.4" stroke="#43369a" stroke-width="1.4" stroke-linecap="round" fill="none"/>
<path d="M510.66,466.8 L511.26,446.5 L511.82,446.5 L512.99,446.5 L514.74,446.5 L517.08,446.5 L520,446.5 L517.34,446.5 L519.67,446.5 L521.42,446.5 L523.18,446.5 L524.34,446.5 L526.09,446.5 L527.85,446.5 L527.83,446.5 L528.43,466.8Z" fill="#4b5a2a" stroke="#4b5a2a" stroke-width="1.2" stroke-linejoin="round"/>
<path d="M511.26,447.5V439.47M512.56,447.5V432.31M513.86,447.5V418M515.16,447.5V416.64M516.46,447.5V416.64M517.76,447.5V432.88M519.06,447.5V419.37M520.36,447.5V429.84M521.66,447.5V436.59M522.96,447.5V440.32M524.26,447.5V442.59M525.56,447.5V428.42M526.86,447.5V435.62" stroke="#4b5a2a" stroke-width="1.4" stroke-linecap="round" fill="none"/>
<path d="M534.85,466.8 L535.45,446.5 L536.02,446.5 L537.77,446.5 L538.94,446.5 L540.11,446.5 L541.86,446.5 L544.2,446.5 L545.95,446.5 L547.7,446.5 L550.04,446.5 L550.6,446.5 L551.2,466.8Z" fill="#d4287a" stroke="#d4287a" stroke-width="1.2" stroke-linejoin="round"/>
<path d="M535.45,447.5V446.43M536.75,447.5V438.34M538.05,447.5V430.52M539.35,447.5V414.98M540.65,447.5V425.03M541.95,447.5V413.8M543.25,447.5V418.95M544.55,447.5V412.61M545.85,447.5V420.6M547.15,447.5V441.55M548.45,447.5V437.22M549.75,447.5V438" stroke="#d4287a" stroke-width="1.4" stroke-linecap="round" fill="none"/>
<path d="M554.12,466.8 L554.72,446.5 L555.29,446.5 L556.46,446.5 L558.21,446.5 L560.55,446.5 L561.72,446.5 L563.47,446.5 L565.22,446.5 L566.97,446.5 L568.72,446.5 L569.89,446.5 L572.23,446.5 L572.21,446.5 L572.81,466.8Z" fill="#e36826" stroke="#e36826" stroke-width="1.2" stroke-linejoin="round"/>
<path d="M554.72,447.5V439.87M556.02,447.5V438.09M557.32,447.5V432.71M558.62,447.5V435.13M559.92,447.5V429.91M561.22,447.5V435.46M562.52,447.5V442.12M563.82,447.5V437.86M565.12,447.5V422M566.42,447.5V428.24M567.72,447.5V431.49M569.02,447.5V432.63M570.32,447.5V436.69M571.62,447.5V440.62" stroke="#e36826" stroke-width="1.4" stroke-linecap="round" fill="none"/>
<path d="M575.73,466.8 L576.33,446.5 L576.31,446.5 L578.07,446.5 L579.82,446.5 L581.57,446.5 L583.91,446.5 L585.07,446.5 L587.99,446.5 L589.74,446.5 L591.5,446.5 L592.06,446.5 L592.66,466.8Z" fill="#d080c0" stroke="#d080c0" stroke-width="1.2" stroke-linejoin="round"/>
<path d="M576.33,447.5V444.9M577.63,447.5V424.28M578.93,447.5V432.28M580.23,447.5V434.5M581.53,447.5V433.86M582.83,447.5V434.05M584.13,447.5V429.64M585.43,447.5V420.33M586.73,447.5V420.05M588.03,447.5V422.44M589.33,447.5V437.28M590.63,447.5V430.12M591.93,447.5V434.1" stroke="#d080c0" stroke-width="1.4" stroke-linecap="round" fill="none"/>
<path d="M595.58,466.8 L596.18,446.5 L596.17,446.5 L599.67,446.5 L601.42,446.5 L603.18,446.5 L606.09,446.5 L607.85,446.5 L609.6,446.5 L610.77,446.5 L610.75,446.5 L611.35,466.8Z" fill="#96e3b2" stroke="#96e3b2" stroke-width="1.2" stroke-linejoin="round"/>
<path d="M596.18,447.5V442.14M597.48,447.5V444.32M598.78,447.5V440.06M600.08,447.5V433.38M601.38,447.5V419.61M602.68,447.5V412.62M603.98,447.5V412.66M605.28,447.5V412.62M606.58,447.5V421.93M607.88,447.5V439.04M609.18,447.5V423.08M610.48,447.5V437.06" stroke="#96e3b2" stroke-width="1.4" stroke-linecap="round" fill="none"/>
<path d="M613.92,466.8 L614.52,446.5 L614.85,446.5 L616.61,446.5 L618.36,446.5 L620.11,446.5 L623.03,446.5 L624.78,446.5 L625.95,446.5 L626.52,446.5 L627.12,466.8Z" fill="#7d1a33" stroke="#7d1a33" stroke-width="1.2" stroke-linejoin="round"/>
<path d="M614.52,447.5V445.58M615.82,447.5V436.26M617.12,447.5V434.7M618.42,447.5V434.58M619.72,447.5V443.72M621.02,447.5V440.59M622.32,447.5V435.38M623.62,447.5V432.76M624.92,447.5V434.03M626.22,447.5V443.58" stroke="#7d1a33" stroke-width="1.4" stroke-linecap="round" fill="none"/>
<path d="M629.8,466.8 L630.4,446.5 L630.62,446.5 L633.54,446.5 L635.88,446.5 L638.21,446.5 L639.96,446.5 L641.72,446.5 L642.88,446.5 L642.87,446.5 L643.47,466.8Z" fill="#3f7f60" stroke="#3f7f60" stroke-width="1.2" stroke-linejoin="round"/>
<path d="M630.4,447.5V443.53M631.7,447.5V443M633,447.5V442.43M634.3,447.5V441.74M635.6,447.5V442.51M636.9,447.5V439.04M638.2,447.5V446.08M639.5,447.5V426.42M640.8,447.5V426.28M642.1,447.5V431.3" stroke="#3f7f60" stroke-width="1.4" stroke-linecap="round" fill="none"/>
<path d="M648.14,466.8 L648.74,446.5 L649.31,446.5 L651.06,446.5 L652.81,446.5 L654.56,446.5 L655.73,446.5 L656.3,446.5 L656.9,466.8Z" fill="#5ca0d9" stroke="#5ca0d9" stroke-width="1.2" stroke-linejoin="round"/>
<path d="M648.74,447.5V439.92M650.04,447.5V439.58M651.34,447.5V437.26M652.64,447.5V442.81M653.94,447.5V437.11M655.24,447.5V434.72" stroke="#5ca0d9" stroke-width="1.4" stroke-linecap="round" fill="none"/>
<path d="M662.5,466.8 L663.1,446.5 L663.32,446.5 L665.07,446.5 L669.16,446.5 L670.33,446.5 L670.31,446.5 L670.91,466.8Z" fill="#e5c337" stroke="#e5c337" stroke-width="1.2" stroke-linejoin="round"/>
<path d="M663.1,447.5V435.56M664.4,447.5V435.18M665.7,447.5V443.33M667,447.5V427.96M668.3,447.5V425.84M669.6,447.5V431.84" stroke="#e5c337" stroke-width="1.4" stroke-linecap="round" fill="none"/>
<path d="M63.7,366V369M63.7,371V377M63.7,380.5V388.5M63.7,393V398M63.7,401.5V411M63.7,413V440" stroke="#5ca0d9" stroke-width="2.2" stroke-linecap="round" fill="none"/>
<path d="M59.9,421V440" stroke="#5ca0d9" stroke-width="2.2" stroke-linecap="round" fill="none"/>
<path d="M67.2,422V440" stroke="#5ca0d9" stroke-width="2.2" stroke-linecap="round" fill="none"/>
<path d="M88.8,418.3V440" stroke="#5ca0d9" stroke-width="2.2" stroke-linecap="round" fill="none"/>
<path d="M104.6,384V386M104.6,388.5V391M104.6,393V395M104.6,397V440" stroke="#e5c337" stroke-width="2.2" stroke-linecap="round" fill="none"/>
<path d="M111.3,422.4V440" stroke="#e5c337" stroke-width="2.2" stroke-linecap="round" fill="none"/>
<path d="M118,422.4V440" stroke="#e5c337" stroke-width="2.2" stroke-linecap="round" fill="none"/>
<path d="M129.1,376.3V376.5M129.1,384.5V384.7M129.1,388.5V388.7M129.1,399.6V399.8M129.1,403.1V403.3M129.1,407.2V407.4M129.1,415V440" stroke="#e5c337" stroke-width="2.2" stroke-linecap="round" fill="none"/>
<path d="M141.9,399.6V440" stroke="#e5c337" stroke-width="2.2" stroke-linecap="round" fill="none"/>
<path d="M151.9,405.1V440" stroke="#43369a" stroke-width="2.2" stroke-linecap="round" fill="none"/>
<path d="M157.5,354.7V361.7M157.5,365.2V372.2M157.5,374.5V375M157.5,378V385M157.5,397V440" stroke="#43369a" stroke-width="2.2" stroke-linecap="round" fill="none"/>
<path d="M172.6,388.5V399M172.6,408V440" stroke="#43369a" stroke-width="2.2" stroke-linecap="round" fill="none"/>
<path d="M179.3,397.1V440" stroke="#43369a" stroke-width="2.2" stroke-linecap="round" fill="none"/>
<path d="M213.8,400.5V406M213.8,408V412M213.8,414V420M213.8,422V440" stroke="#4b5a2a" stroke-width="2.2" stroke-linecap="round" fill="none"/>
<path d="M246.5,402.6V404M246.5,408V410M246.5,411.5V414M246.5,418V440" stroke="#d4287a" stroke-width="2.2" stroke-linecap="round" fill="none"/>
<path d="M274.5,413.5V440" stroke="#e36826" stroke-width="2.2" stroke-linecap="round" fill="none"/>
<path d="M301,372.2V440" stroke="#d080c0" stroke-width="2.2" stroke-linecap="round" fill="none"/>
<path d="M313.3,409.6V440" stroke="#d080c0" stroke-width="2.2" stroke-linecap="round" fill="none"/>
<path d="M318.6,404.3V440" stroke="#d080c0" stroke-width="2.2" stroke-linecap="round" fill="none"/>
<path d="M321.8,406V440" stroke="#d080c0" stroke-width="2.2" stroke-linecap="round" fill="none"/>
<path d="M341.4,415.6V440" stroke="#96e3b2" stroke-width="2.2" stroke-linecap="round" fill="none"/>
<path d="M382.3,400V401M382.3,404V405M382.3,408.5V410M382.3,412V440" stroke="#7d1a33" stroke-width="2.2" stroke-linecap="round" fill="none"/>
<path d="M409,401.7V411.5" stroke="#3f7f60" stroke-width="2.2" stroke-linecap="round" fill="none"/>
<path d="M414.3,419.1V440" stroke="#3f7f60" stroke-width="2.2" stroke-linecap="round" fill="none"/>
<path d="M430.2,378V378.3M430.2,400V440" stroke="#5ca0d9" stroke-width="2.2" stroke-linecap="round" fill="none"/>
<path d="M435.4,370.8V440" stroke="#5ca0d9" stroke-width="2.2" stroke-linecap="round" fill="none"/>
<path d="M444.6,406V440" stroke="#5ca0d9" stroke-width="2.2" stroke-linecap="round" fill="none"/>
<path d="M448.2,422.6V440" stroke="#5ca0d9" stroke-width="2.2" stroke-linecap="round" fill="none"/>
<path d="M453.8,418.5V440" stroke="#e5c337" stroke-width="2.2" stroke-linecap="round" fill="none"/>
<path d="M459.6,411.5V440" stroke="#e5c337" stroke-width="2.2" stroke-linecap="round" fill="none"/>
<path d="M475.1,390.5V440" stroke="#e5c337" stroke-width="2.2" stroke-linecap="round" fill="none"/>
<path d="M499.5,416.8V440" stroke="#43369a" stroke-width="2.2" stroke-linecap="round" fill="none"/>
<path d="M517.5,419.7V440" stroke="#4b5a2a" stroke-width="2.2" stroke-linecap="round" fill="none"/>
<path d="M526.1,406V440" stroke="#4b5a2a" stroke-width="2.2" stroke-linecap="round" fill="none"/>
<path d="M543.7,393.2V440" stroke="#d4287a" stroke-width="2.2" stroke-linecap="round" fill="none"/>
<path d="M538.9,408.6V440" stroke="#d4287a" stroke-width="2.2" stroke-linecap="round" fill="none"/>
<path d="M545.8,410.3V440" stroke="#d4287a" stroke-width="2.2" stroke-linecap="round" fill="none"/>
<path d="M578.1,417.3V440" stroke="#d080c0" stroke-width="2.2" stroke-linecap="round" fill="none"/>
<path d="M588.4,311.5V336M588.4,338V341M588.4,348V361M588.4,367.5V384M588.4,385V389.7M588.4,391V399M588.4,400.2V440" stroke="#d080c0" stroke-width="2.2" stroke-linecap="round" fill="none"/>
<path d="M602.9,403.7V440" stroke="#96e3b2" stroke-width="2.2" stroke-linecap="round" fill="none"/>
<path d="M600.8,408V440" stroke="#96e3b2" stroke-width="2.2" stroke-linecap="round" fill="none"/>
<path d="M605.8,400.2V440" stroke="#96e3b2" stroke-width="2.2" stroke-linecap="round" fill="none"/>
<path d="M655.5,423V440" stroke="#5ca0d9" stroke-width="2.2" stroke-linecap="round" fill="none"/>
<circle cx="71.9" cy="427.7" r="1.15" fill="#5ca0d9"/>
<circle cx="155.6" cy="429" r="1.15" fill="#43369a"/>
<circle cx="181" cy="428" r="1.15" fill="#43369a"/>
<circle cx="168.5" cy="437" r="1.15" fill="#43369a"/>
<circle cx="189.9" cy="424.2" r="1.15" fill="#4b5a2a"/>
<circle cx="199.2" cy="425.4" r="1.15" fill="#4b5a2a"/>
<circle cx="229.2" cy="430" r="1.15" fill="#d4287a"/>
<circle cx="253.7" cy="424.2" r="1.15" fill="#d4287a"/>
<circle cx="259.6" cy="439.4" r="1.15" fill="#d4287a"/>
<circle cx="284.1" cy="431.2" r="1.15" fill="#e36826"/>
<circle cx="344.9" cy="431.2" r="1.15" fill="#96e3b2"/>
<circle cx="351.9" cy="435.9" r="1.15" fill="#96e3b2"/>
<circle cx="398.6" cy="439.4" r="1.15" fill="#3f7f60"/>
<circle cx="466.3" cy="424.2" r="1.15" fill="#e5c337"/>
<circle cx="472.1" cy="428.9" r="1.15" fill="#e5c337"/>
<circle cx="466.3" cy="433.6" r="1.15" fill="#e5c337"/>
<circle cx="486.2" cy="442.9" r="1.15" fill="#43369a"/>
<circle cx="574.5" cy="427" r="1.15" fill="#e36826"/>
<circle cx="63.7" cy="364" r="2.4" fill="#ff1a1a"/>
<circle cx="59.9" cy="420.6" r="2.4" fill="#ff1a1a"/>
<circle cx="67.2" cy="422.2" r="2.4" fill="#ff1a1a"/>
<circle cx="88.8" cy="418.3" r="2.4" fill="#ff1a1a"/>
<circle cx="104.6" cy="378.6" r="2.4" fill="#ff1a1a"/>
<circle cx="104.6" cy="397.3" r="2.4" fill="#ff1a1a"/>
<circle cx="105.1" cy="420.3" r="2.4" fill="#ff1a1a"/>
<circle cx="111.3" cy="422.4" r="2.4" fill="#ff1a1a"/>
<circle cx="118" cy="422.4" r="2.4" fill="#ff1a1a"/>
<circle cx="129.1" cy="372.8" r="2.4" fill="#ff1a1a"/>
<circle cx="126.2" cy="417.3" r="2.4" fill="#ff1a1a"/>
<circle cx="128.5" cy="419.1" r="2.4" fill="#ff1a1a"/>
<circle cx="131.4" cy="415" r="2.4" fill="#ff1a1a"/>
<circle cx="131.4" cy="420.3" r="2.4" fill="#ff1a1a"/>
<circle cx="126.8" cy="420.3" r="2.4" fill="#ff1a1a"/>
<circle cx="141.9" cy="399.6" r="2.4" fill="#ff1a1a"/>
<circle cx="151.9" cy="405.1" r="2.4" fill="#ff1a1a"/>
<circle cx="157.5" cy="351.2" r="2.4" fill="#ff1a1a"/>
<circle cx="157.5" cy="400.2" r="2.4" fill="#ff1a1a"/>
<circle cx="157.5" cy="405.5" r="2.4" fill="#ff1a1a"/>
<circle cx="156.5" cy="417.9" r="2.4" fill="#ff1a1a"/>
<circle cx="172.6" cy="388.5" r="2.4" fill="#ff1a1a"/>
<circle cx="179.3" cy="397.1" r="2.4" fill="#ff1a1a"/>
<circle cx="175.5" cy="416.4" r="2.4" fill="#ff1a1a"/>
<circle cx="180.8" cy="412.1" r="2.4" fill="#ff1a1a"/>
<circle cx="176.7" cy="422.4" r="2.4" fill="#ff1a1a"/>
<circle cx="213.8" cy="400.5" r="2.4" fill="#ff1a1a"/>
<circle cx="193.3" cy="419.7" r="2.4" fill="#ff1a1a"/>
<circle cx="246.5" cy="402.6" r="2.4" fill="#ff1a1a"/>
<circle cx="274.5" cy="413.5" r="2.4" fill="#ff1a1a"/>
<circle cx="272.7" cy="419.7" r="2.4" fill="#ff1a1a"/>
<circle cx="273.9" cy="420.8" r="2.4" fill="#ff1a1a"/>
<circle cx="290.3" cy="416.2" r="2.4" fill="#ff1a1a"/>
<circle cx="292.2" cy="419.7" r="2.4" fill="#ff1a1a"/>
<circle cx="301" cy="372.2" r="2.4" fill="#ff1a1a"/>
<circle cx="318.6" cy="404.3" r="2.4" fill="#ff1a1a"/>
<circle cx="321.8" cy="406" r="2.4" fill="#ff1a1a"/>
<circle cx="313.6" cy="409.6" r="2.4" fill="#ff1a1a"/>
<circle cx="313" cy="418.3" r="2.4" fill="#ff1a1a"/>
<circle cx="319.1" cy="423" r="2.4" fill="#ff1a1a"/>
<circle cx="341.4" cy="415.6" r="2.4" fill="#ff1a1a"/>
<circle cx="382.3" cy="400" r="2.4" fill="#ff1a1a"/>
<circle cx="409" cy="401.7" r="2.4" fill="#ff1a1a"/>
<circle cx="414.3" cy="419.1" r="2.4" fill="#ff1a1a"/>
<circle cx="430.2" cy="371.6" r="2.4" fill="#ff1a1a"/>
<circle cx="435.4" cy="370.8" r="2.4" fill="#ff1a1a"/>
<circle cx="433" cy="412.7" r="2.4" fill="#ff1a1a"/>
<circle cx="444.6" cy="406" r="2.4" fill="#ff1a1a"/>
<circle cx="431.5" cy="419.7" r="2.4" fill="#ff1a1a"/>
<circle cx="444.9" cy="419.7" r="2.4" fill="#ff1a1a"/>
<circle cx="448.2" cy="422.6" r="2.4" fill="#ff1a1a"/>
<circle cx="475.1" cy="390.5" r="2.4" fill="#ff1a1a"/>
<circle cx="453.8" cy="418.5" r="2.4" fill="#ff1a1a"/>
<circle cx="459.6" cy="411.5" r="2.4" fill="#ff1a1a"/>
<circle cx="459.6" cy="415.9" r="2.4" fill="#ff1a1a"/>
<circle cx="476" cy="420.8" r="2.4" fill="#ff1a1a"/>
<circle cx="499" cy="416.8" r="2.4" fill="#ff1a1a"/>
<circle cx="500.1" cy="420.8" r="2.4" fill="#ff1a1a"/>
<circle cx="514" cy="422.6" r="2.4" fill="#ff1a1a"/>
<circle cx="517.7" cy="419.7" r="2.4" fill="#ff1a1a"/>
<circle cx="526.2" cy="419.7" r="2.4" fill="#ff1a1a"/>
<circle cx="525.5" cy="406" r="2.4" fill="#ff1a1a"/>
<circle cx="543.7" cy="393.2" r="2.4" fill="#ff1a1a"/>
<circle cx="542.5" cy="403.7" r="2.4" fill="#ff1a1a"/>
<circle cx="539" cy="408.2" r="2.4" fill="#ff1a1a"/>
<circle cx="545.8" cy="410.3" r="2.4" fill="#ff1a1a"/>
<circle cx="538.9" cy="413.6" r="2.4" fill="#ff1a1a"/>
<circle cx="545.9" cy="415.2" r="2.4" fill="#ff1a1a"/>
<circle cx="542.4" cy="419.4" r="2.4" fill="#ff1a1a"/>
<circle cx="578.1" cy="417.3" r="2.4" fill="#ff1a1a"/>
<circle cx="588.4" cy="310.5" r="2.4" fill="#ff1a1a"/>
<circle cx="602.9" cy="403.7" r="2.4" fill="#ff1a1a"/>
<circle cx="605.8" cy="400.2" r="2.4" fill="#ff1a1a"/>
<circle cx="605.7" cy="416.4" r="2.4" fill="#ff1a1a"/>
<circle cx="617.8" cy="417.6" r="2.4" fill="#ff1a1a"/>
<circle cx="655.5" cy="423" r="2.4" fill="#ff1a1a"/>
<path d="M46.1,284.3V342 M46.1,347.8V466.2 M39.2,284.3H46.1 M39.2,317H46.1 M39.2,367.2H46.1 M39.2,400H46.1 M39.2,432.8H46.1 M39.2,466.2H46.8" stroke="#000" stroke-width="1.6" fill="none"/>
<path d="M39.6,346 L50.1,341.1 M41.1,349.9 L51.6,344.6" stroke="#000" stroke-width="1.2"/>
<text x="36.5" y="287.9" text-anchor="end" class="mt">7</text>
<text x="36.5" y="320.6" text-anchor="end" class="mt">6</text>
<text x="36.5" y="370.8" text-anchor="end" class="mt">3</text>
<text x="36.5" y="403.6" text-anchor="end" class="mt">2</text>
<text x="36.5" y="436.4" text-anchor="end" class="mt">1</text>
<text x="36.5" y="469.8" text-anchor="end" class="mt">0</text>
<path d="M45.3,482.7V475.6H671.2" stroke="#000" stroke-width="1.7" fill="none"/>
<path d="M72.9,475.6V482.7M121.3,475.6V482.7M166,475.6V482.7M206,475.6V482.7M244,475.6V482.7M280,475.6V482.7M314.7,475.6V482.7M346.6,475.6V482.7M377.6,475.6V482.7M407.4,475.6V482.7M436.7,475.6V482.7M465.7,475.6V482.7M492.6,475.6V482.7M517.7,475.6V482.7M541.7,475.6V482.7M563.8,475.6V482.7M584.2,475.6V482.7M603.4,475.6V482.7M619.8,475.6V482.7M635.7,475.6V482.7M651.6,475.6V482.7M665.6,475.6V482.7" stroke="#000" stroke-width="1.6" fill="none"/>
<text transform="translate(72.9,494.9) scale(0.85,1)" text-anchor="middle" class="mx">1</text>
<text transform="translate(121.3,494.9) scale(0.85,1)" text-anchor="middle" class="mx">2</text>
<text transform="translate(166,494.9) scale(0.85,1)" text-anchor="middle" class="mx">3</text>
<text transform="translate(206,494.9) scale(0.85,1)" text-anchor="middle" class="mx">4</text>
<text transform="translate(244,494.9) scale(0.85,1)" text-anchor="middle" class="mx">5</text>
<text transform="translate(280,494.9) scale(0.85,1)" text-anchor="middle" class="mx">6</text>
<text transform="translate(314.7,494.9) scale(0.85,1)" text-anchor="middle" class="mx">7</text>
<text transform="translate(346.6,494.9) scale(0.85,1)" text-anchor="middle" class="mx">8</text>
<text transform="translate(377.6,494.9) scale(0.85,1)" text-anchor="middle" class="mx">9</text>
<text transform="translate(407.4,494.9) scale(0.85,1)" text-anchor="middle" class="mx">10</text>
<text transform="translate(436.7,494.9) scale(0.85,1)" text-anchor="middle" class="mx">11</text>
<text transform="translate(465.7,494.9) scale(0.85,1)" text-anchor="middle" class="mx">12</text>
<text transform="translate(492.6,494.9) scale(0.85,1)" text-anchor="middle" class="mx">13</text>
<text transform="translate(517.7,494.9) scale(0.85,1)" text-anchor="middle" class="mx">14</text>
<text transform="translate(541.7,494.9) scale(0.85,1)" text-anchor="middle" class="mx">15</text>
<text transform="translate(563.8,494.9) scale(0.85,1)" text-anchor="middle" class="mx">16</text>
<text transform="translate(584.2,494.9) scale(0.85,1)" text-anchor="middle" class="mx">17</text>
<text transform="translate(603.4,494.9) scale(0.85,1)" text-anchor="middle" class="mx">18</text>
<text transform="translate(619.8,494.9) scale(0.85,1)" text-anchor="middle" class="mx">19</text>
<text transform="translate(635.7,494.9) scale(0.85,1)" text-anchor="middle" class="mx">20</text>
<text transform="translate(651.6,494.9) scale(0.85,1)" text-anchor="middle" class="mx">21</text>
<text transform="translate(665.6,494.9) scale(0.85,1)" text-anchor="middle" class="mx">22</text>
<text x="350.7" y="512.8" text-anchor="middle" class="chr">Chromosome</text>
<text transform="translate(21.6,382.5) rotate(-90) scale(0.95,1)" text-anchor="middle" class="ax2">-log<tspan font-size="8.5" dy="2.5">10</tspan><tspan dy="-2.5">(conjFDR)</tspan></text>
</svg>
</body></html>
